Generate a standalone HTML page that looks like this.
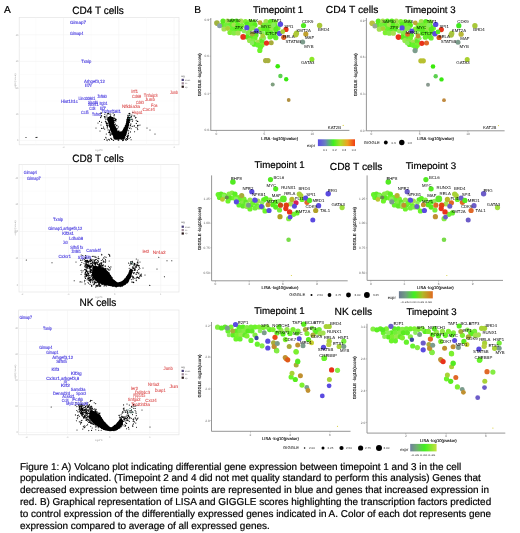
<!DOCTYPE html>
<html><head><meta charset="utf-8"><style>
html,body{margin:0;padding:0;background:#fff;}
svg{display:block;filter:blur(0.4px);}
</style></head><body>
<svg width="520" height="533" viewBox="0 0 520 533" font-family="'Liberation Sans', sans-serif" text-rendering="geometricPrecision">
<rect width="520" height="533" fill="#fff"/>
<text x="4.00" y="12.70" font-size="10.2" fill="#000" text-anchor="start" stroke="#000" stroke-width="0.2">A</text>
<text x="194.30" y="12.70" font-size="10.2" fill="#000" text-anchor="start" stroke="#000" stroke-width="0.2">B</text>
<rect x="19.2" y="17.5" width="159.8" height="127.30000000000001" fill="none" stroke="#e4e4e4" stroke-width="0.7"/>
<line x1="63.50" y1="17.50" x2="63.50" y2="144.80" stroke="#f2f2f2" stroke-width="0.6"/>
<line x1="118.80" y1="17.50" x2="118.80" y2="144.80" stroke="#f2f2f2" stroke-width="0.6"/>
<line x1="174.10" y1="17.50" x2="174.10" y2="144.80" stroke="#f2f2f2" stroke-width="0.6"/>
<line x1="35.85" y1="17.50" x2="35.85" y2="144.80" stroke="#f8f8f8" stroke-width="0.4"/>
<line x1="91.15" y1="17.50" x2="91.15" y2="144.80" stroke="#f8f8f8" stroke-width="0.4"/>
<line x1="146.45" y1="17.50" x2="146.45" y2="144.80" stroke="#f8f8f8" stroke-width="0.4"/>
<line x1="19.20" y1="34.80" x2="179.00" y2="34.80" stroke="#f2f2f2" stroke-width="0.6"/>
<line x1="19.20" y1="61.40" x2="179.00" y2="61.40" stroke="#f2f2f2" stroke-width="0.6"/>
<line x1="19.20" y1="87.80" x2="179.00" y2="87.80" stroke="#f2f2f2" stroke-width="0.6"/>
<line x1="19.20" y1="114.20" x2="179.00" y2="114.20" stroke="#f2f2f2" stroke-width="0.6"/>
<line x1="19.20" y1="140.40" x2="179.00" y2="140.40" stroke="#f2f2f2" stroke-width="0.6"/>
<line x1="19.20" y1="48.10" x2="179.00" y2="48.10" stroke="#f8f8f8" stroke-width="0.4"/>
<line x1="19.20" y1="74.60" x2="179.00" y2="74.60" stroke="#f8f8f8" stroke-width="0.4"/>
<line x1="19.20" y1="101.00" x2="179.00" y2="101.00" stroke="#f8f8f8" stroke-width="0.4"/>
<line x1="19.20" y1="127.30" x2="179.00" y2="127.30" stroke="#f8f8f8" stroke-width="0.4"/>
<text x="63.50" y="147.80" font-size="2.4" fill="#aaa" text-anchor="middle" >-2</text>
<text x="118.80" y="147.80" font-size="2.4" fill="#aaa" text-anchor="middle" >0</text>
<text x="174.10" y="147.80" font-size="2.4" fill="#aaa" text-anchor="middle" >2</text>
<text x="18.40" y="35.60" font-size="2.4" fill="#aaa" text-anchor="end" >40</text>
<text x="18.40" y="62.20" font-size="2.4" fill="#aaa" text-anchor="end" >30</text>
<text x="18.40" y="88.60" font-size="2.4" fill="#aaa" text-anchor="end" >20</text>
<text x="18.40" y="115.00" font-size="2.4" fill="#aaa" text-anchor="end" >10</text>
<text x="18.40" y="141.20" font-size="2.4" fill="#aaa" text-anchor="end" >0</text>
<text x="0" y="0" font-size="2.4" fill="#999" text-anchor="middle" transform="translate(16.0,81.2) rotate(-90)">-log10(pvalue)</text>
<text x="0" y="0" font-size="10.05" fill="#000" stroke="#000" stroke-width="0.2" transform="translate(72.30,13.75) scale(1,1.06)">CD4 T cells</text>
<polygon points="107.5,117.0 113.0,117.0 114.5,125.0 118.0,131.5 122.0,131.5 125.5,125.0 127.5,117.0 129.8,117.0 129.0,125.0 126.5,133.0 124.0,139.3 114.5,139.3 111.5,133.0 108.8,125.0" fill="#000"/>
<path d="M109.1 119.0h0M117.0 135.4h0M110.3 122.0h0M121.5 138.1h0M129.3 118.0h0M126.6 123.5h0M110.7 119.6h0M114.4 135.2h0M111.5 130.0h0M108.8 121.6h0M114.5 130.1h0M125.2 132.6h0M112.9 129.8h0M119.2 136.5h0M129.4 119.6h0M116.8 133.9h0M110.9 127.9h0M124.5 129.8h0M127.0 124.0h0M123.0 130.3h0M118.1 131.8h0M121.9 139.1h0M116.1 131.9h0M111.2 119.6h0M110.4 122.5h0M116.2 136.4h0M119.8 136.7h0M113.7 126.3h0M115.5 136.7h0M128.9 120.4h0M111.4 122.2h0M112.7 127.8h0M115.7 129.6h0M108.9 118.5h0M112.2 120.6h0M109.8 125.1h0M113.1 124.7h0M109.4 119.3h0M119.3 138.8h0M113.3 125.2h0M119.4 134.4h0M125.7 133.5h0M112.6 128.5h0M113.3 132.4h0M128.8 125.1h0M112.4 122.1h0M111.9 121.6h0M121.4 137.1h0M126.2 127.7h0M122.1 134.8h0M124.2 127.7h0M114.9 134.9h0M116.5 138.1h0M110.3 120.4h0M115.3 129.2h0M110.4 117.3h0M119.2 137.8h0M117.2 136.4h0M113.1 123.5h0M112.9 130.1h0M113.3 126.3h0M115.4 127.2h0M120.5 137.2h0M116.9 137.5h0M111.3 127.6h0M123.7 129.4h0M114.8 128.6h0M119.9 134.5h0M113.0 123.2h0M124.7 128.3h0M120.0 133.9h0M127.8 126.9h0M118.9 132.4h0M118.2 138.0h0M123.1 136.5h0M128.5 122.8h0M120.0 138.0h0M110.2 126.9h0M109.1 122.4h0M111.1 126.6h0M111.9 124.1h0M109.8 122.9h0M113.5 119.9h0M116.9 137.3h0M120.2 132.6h0M109.5 118.3h0M121.6 134.9h0M119.8 137.7h0M113.5 119.9h0M109.9 120.6h0M108.6 121.5h0M123.8 129.3h0M111.7 127.6h0M128.3 119.4h0M125.8 126.6h0M118.5 135.6h0M116.3 128.3h0M122.8 138.9h0M115.1 135.6h0M123.3 131.2h0M108.7 119.9h0M113.2 120.6h0M113.8 122.4h0M114.0 127.2h0M111.0 126.9h0M114.4 125.0h0M112.0 128.3h0M109.5 125.9h0M108.4 117.5h0M124.2 131.7h0M123.5 136.6h0M129.5 120.3h0M123.6 131.3h0M123.9 135.1h0M110.6 128.7h0M118.7 135.6h0M125.4 135.4h0M120.5 136.9h0M122.7 132.5h0M112.6 117.7h0M110.5 125.0h0M121.5 132.2h0M125.3 133.7h0M109.2 122.9h0M124.0 138.8h0M118.2 132.2h0M124.6 130.8h0M110.8 122.7h0M108.9 123.0h0M122.5 132.4h0M127.4 121.4h0M112.2 130.0h0M110.7 128.7h0M128.7 120.0h0M125.8 128.3h0M110.6 124.7h0M114.5 135.7h0M127.6 123.5h0M113.9 137.9h0M113.1 122.9h0M115.8 138.3h0M121.6 137.4h0M124.3 131.4h0M128.2 119.8h0M114.1 133.5h0M111.2 120.6h0M111.8 119.0h0M112.8 122.8h0M120.2 136.8h0M108.9 123.2h0M129.1 119.8h0M126.7 121.8h0M113.5 122.5h0M127.5 127.6h0M116.2 137.7h0M129.2 122.5h0M109.9 120.4h0M119.1 132.2h0M121.9 134.1h0M110.4 122.6h0M121.7 132.6h0M110.0 118.6h0M114.2 127.3h0M127.2 127.6h0M112.7 122.5h0M118.6 132.0h0M122.4 137.6h0M112.6 117.8h0M115.0 126.4h0M125.3 133.5h0M112.4 134.0h0M114.1 138.2h0M112.5 126.3h0M122.3 138.2h0M110.8 125.8h0M110.7 118.2h0M123.8 139.2h0M128.3 124.3h0M111.3 117.1h0M113.7 124.8h0M128.8 119.8h0M129.0 121.6h0M115.5 135.3h0M125.8 126.6h0M115.8 137.5h0M111.8 125.1h0M127.5 117.7h0M116.7 135.1h0M108.3 118.4h0M128.0 122.7h0M124.2 137.0h0M113.3 133.0h0M128.5 117.5h0M112.7 127.6h0M128.2 121.1h0M125.4 133.5h0M125.8 134.2h0M111.9 133.8h0M113.0 118.4h0M114.8 138.9h0M112.7 126.3h0M121.3 132.0h0M124.2 135.9h0M126.3 123.6h0M113.0 122.5h0M116.3 139.1h0M125.5 131.6h0M118.1 135.3h0M110.2 121.2h0M128.2 125.3h0M126.8 127.0h0M113.3 134.3h0M128.6 119.4h0M112.4 125.2h0M110.7 121.5h0M113.2 130.4h0M125.2 129.2h0M108.9 119.3h0M116.3 129.3h0M108.7 132.5h0M115.9 120.9h0M112.9 139.7h0M113.1 128.9h0M114.4 124.7h0M114.5 118.5h0M116.3 136.0h0M115.8 137.7h0M122.6 138.5h0M114.8 127.1h0M108.2 120.9h0M119.1 138.9h0M107.2 126.7h0M109.7 116.5h0M130.9 123.9h0M127.9 117.5h0M126.8 119.2h0M115.7 136.7h0M128.0 118.1h0M110.3 124.2h0M107.6 119.9h0M125.0 138.1h0M128.3 116.3h0M116.2 129.3h0M116.3 131.4h0M117.0 125.3h0M126.1 134.8h0M107.7 125.1h0M106.7 125.4h0M125.3 134.8h0M131.6 116.8h0M125.2 135.8h0M118.3 139.8h0M130.6 117.6h0M126.9 139.1h0M105.9 122.8h0M130.0 120.7h0M127.7 117.0h0M118.6 138.8h0M110.0 120.4h0M105.1 118.1h0M123.7 138.1h0M107.3 127.9h0M129.3 128.5h0M120.8 137.7h0M127.1 120.4h0M114.4 134.4h0M127.8 120.1h0M122.5 140.6h0M113.1 113.1h0M105.0 117.2h0M118.9 138.1h0M107.8 119.4h0M107.1 123.0h0M110.5 129.3h0M111.1 117.2h0M115.7 120.4h0M111.2 138.3h0M115.8 119.7h0M131.3 117.0h0M109.8 130.0h0M118.7 131.0h0M127.6 117.9h0M113.0 121.4h0M126.7 133.0h0M125.6 126.0h0M125.5 125.7h0M110.6 115.9h0M110.7 114.1h0M113.7 134.0h0M124.2 136.7h0M126.9 127.7h0M111.7 131.0h0M132.0 119.1h0M129.5 113.4h0M111.6 119.6h0M125.6 139.5h0M129.5 122.2h0M122.3 132.4h0M123.3 140.4h0M117.6 136.5h0M124.2 137.0h0M116.7 133.3h0M110.1 130.4h0M108.2 113.8h0M114.0 117.0h0M104.8 114.2h0M124.1 130.7h0M124.2 133.6h0M114.5 135.9h0M127.8 138.0h0M107.1 118.8h0M107.2 114.0h0M122.4 136.1h0M106.9 115.7h0M113.3 124.9h0M112.2 133.0h0M114.7 122.0h0M128.7 130.3h0M116.7 134.6h0M114.1 132.7h0M129.0 115.5h0M127.8 117.8h0M126.1 140.4h0M118.3 135.3h0M109.4 126.8h0M114.1 136.3h0M111.6 139.4h0M112.2 119.0h0M124.2 135.0h0M115.6 124.0h0M129.8 115.4h0M129.8 113.7h0M110.0 120.4h0M130.1 127.0h0M115.0 137.8h0M110.8 125.9h0M119.4 134.1h0M125.8 131.1h0M114.1 122.1h0M123.2 133.8h0M108.9 125.3h0M126.4 129.2h0M107.7 125.9h0M129.7 119.7h0M109.6 121.4h0M124.4 136.6h0M108.5 117.4h0M111.2 122.1h0M113.5 118.3h0M106.9 123.8h0M125.3 125.2h0M109.7 130.9h0M107.1 118.8h0M115.6 135.1h0M108.1 129.9h0M115.7 133.7h0M130.3 125.0h0M120.6 134.0h0M116.2 119.4h0M124.9 137.6h0M126.4 132.6h0M128.7 132.0h0M113.1 130.6h0M106.8 124.7h0M126.7 133.0h0M116.3 125.7h0M123.6 139.0h0M109.3 131.3h0M126.6 123.9h0M118.2 140.3h0M119.7 133.1h0M118.9 130.9h0M128.0 127.6h0M115.9 139.5h0M110.1 132.2h0M115.4 134.4h0M114.3 114.6h0M112.0 124.2h0M116.2 132.6h0M114.2 120.4h0M110.5 133.8h0M110.3 135.4h0M115.4 118.9h0M127.5 130.8h0M117.6 128.7h0M114.2 130.9h0M127.7 135.9h0M128.2 122.9h0M128.7 120.5h0M114.9 120.1h0M112.2 119.9h0M112.8 126.4h0M116.4 130.8h0M106.9 117.0h0M110.8 134.7h0M114.0 117.3h0M121.6 134.9h0M123.4 138.0h0M126.9 136.5h0M109.7 132.4h0M119.4 133.8h0M116.7 137.7h0M110.8 116.9h0M118.2 126.9h0M119.6 137.2h0M117.6 128.8h0M123.3 136.5h0M114.9 124.7h0M131.9 115.1h0M123.8 139.1h0M113.6 140.5h0M130.0 113.9h0M124.8 130.5h0M113.8 137.1h0M114.6 126.3h0M119.2 134.6h0M110.1 125.2h0M116.2 128.5h0M128.0 121.2h0M128.0 124.3h0M118.7 140.3h0M123.0 135.2h0M113.6 121.9h0M112.7 129.4h0M122.4 135.0h0M129.7 128.3h0M105.4 121.4h0M123.1 135.1h0M124.2 129.7h0M109.3 114.0h0M126.5 138.6h0M127.9 135.0h0M112.8 124.8h0M113.2 125.1h0M122.6 139.1h0M105.1 116.3h0M127.5 129.1h0M130.6 125.5h0M121.2 139.3h0M108.4 113.4h0M107.7 113.5h0M124.7 137.0h0M122.2 132.9h0M117.4 139.1h0M127.7 115.2h0M113.0 133.4h0M114.7 129.1h0M116.7 132.0h0M114.5 131.1h0M115.2 135.0h0M124.4 136.2h0M113.6 130.0h0M116.4 137.9h0M114.9 132.2h0M121.5 138.1h0M127.4 120.9h0M116.3 129.4h0M127.7 137.8h0M127.5 137.3h0M123.9 138.6h0M114.1 115.4h0M120.1 135.3h0M109.8 134.0h0M131.0 119.6h0M121.6 132.0h0M111.4 134.0h0M127.0 125.9h0M106.1 138.0h0M104.7 129.1h0M100.6 117.6h0M103.1 128.4h0M103.6 127.0h0M100.1 113.3h0M106.4 122.0h0M105.3 112.6h0M105.9 119.6h0M109.5 139.9h0M101.6 113.1h0M100.8 117.2h0M105.8 137.2h0M104.4 139.5h0M106.4 123.5h0M101.6 128.4h0M107.0 139.7h0M107.4 123.4h0M104.3 116.6h0M101.1 113.1h0M101.6 122.2h0M110.6 138.2h0M109.0 132.6h0M107.1 140.6h0M108.6 139.2h0M106.3 134.0h0M99.5 121.4h0M101.6 115.6h0M104.7 116.9h0M101.3 116.2h0M136.0 117.5h0M129.1 138.2h0M127.4 138.0h0M137.8 129.6h0M132.3 121.5h0M137.5 125.4h0M134.8 116.0h0M129.1 113.6h0M136.0 127.5h0M128.0 136.4h0M137.8 121.4h0M130.5 137.3h0M127.6 139.4h0M135.4 117.9h0M132.7 120.0h0M129.6 117.6h0M131.1 139.7h0M136.2 120.2h0M137.3 121.5h0M137.7 126.7h0M134.0 115.9h0M128.5 133.6h0M136.0 117.5h0M134.5 125.9h0M129.8 117.8h0M134.6 131.8h0M137.4 128.3h0M128.8 113.8h0M136.3 123.4h0M137.3 121.4h0M132.9 112.4h0M138.7 125.3h0M128.6 135.3h0M131.1 116.6h0M131.2 128.7h0M132.2 126.4h0M130.5 131.9h0M26.0 137.5h0M36.0 137.5h0M37.0 137.2h0M100.0 131.0h0M96.0 128.0h0M98.0 123.0h0M101.0 125.0h0M134.0 126.0h0M140.0 125.0h0M150.0 130.0h0M147.0 128.0h0M155.0 134.0h0" stroke="#000" stroke-width="1.1" stroke-linecap="round" fill="none"/>
<path d="M129.5 115.8h0M130.5 117.2h0M128.4 118.5h0M131.2 119.5h0" stroke="#2a7a68" stroke-width="1.1" stroke-linecap="round" fill="none"/>
<text x="70.00" y="23.50" font-size="4.6" fill="#4c3fe0" text-anchor="start"  stroke="#4c3fe0" stroke-width="0.15">Gimap7</text>
<text x="70.00" y="34.70" font-size="4.6" fill="#4c3fe0" text-anchor="start" textLength="13.3" lengthAdjust="spacingAndGlyphs" stroke="#4c3fe0" stroke-width="0.15">Gimap4</text>
<text x="81.20" y="63.30" font-size="4.6" fill="#4c3fe0" text-anchor="start" textLength="10.1" lengthAdjust="spacingAndGlyphs" stroke="#4c3fe0" stroke-width="0.15">Txnip</text>
<text x="84.00" y="82.50" font-size="4.6" fill="#4c3fe0" text-anchor="start" textLength="20.8" lengthAdjust="spacingAndGlyphs" stroke="#4c3fe0" stroke-width="0.15">Arhgef3,12</text>
<text x="85.00" y="86.50" font-size="4.6" fill="#4c3fe0" text-anchor="start" textLength="7.0" lengthAdjust="spacingAndGlyphs" stroke="#4c3fe0" stroke-width="0.15">Il7r</text>
<text x="97.40" y="97.80" font-size="4.6" fill="#4c3fe0" text-anchor="start" textLength="9.4" lengthAdjust="spacingAndGlyphs" stroke="#4c3fe0" stroke-width="0.15">Znf683</text>
<text x="78.50" y="100.00" font-size="4.6" fill="#4c3fe0" text-anchor="start" textLength="16.9" lengthAdjust="spacingAndGlyphs" stroke="#4c3fe0" stroke-width="0.15">Linc00861</text>
<text x="61.00" y="103.10" font-size="4.6" fill="#4c3fe0" text-anchor="start" textLength="16.9" lengthAdjust="spacingAndGlyphs" stroke="#4c3fe0" stroke-width="0.15">Hist1h1c</text>
<text x="88.00" y="103.50" font-size="4.6" fill="#4c3fe0" text-anchor="start" textLength="10.0" lengthAdjust="spacingAndGlyphs" stroke="#4c3fe0" stroke-width="0.15">Slamf6</text>
<text x="88.00" y="106.40" font-size="4.6" fill="#4c3fe0" text-anchor="start" textLength="10.7" lengthAdjust="spacingAndGlyphs" stroke="#4c3fe0" stroke-width="0.15">Sorl1</text>
<text x="99.40" y="104.50" font-size="4.6" fill="#4c3fe0" text-anchor="start" textLength="8.1" lengthAdjust="spacingAndGlyphs" stroke="#4c3fe0" stroke-width="0.15">Itgb1</text>
<text x="89.30" y="110.10" font-size="4.6" fill="#4c3fe0" text-anchor="start" textLength="6.1" lengthAdjust="spacingAndGlyphs" stroke="#4c3fe0" stroke-width="0.15">Cd3</text>
<text x="100.00" y="109.50" font-size="4.6" fill="#4c3fe0" text-anchor="start" textLength="6.0" lengthAdjust="spacingAndGlyphs" stroke="#4c3fe0" stroke-width="0.15">Il7</text>
<text x="81.00" y="113.50" font-size="4.6" fill="#4c3fe0" text-anchor="start" textLength="7.6" lengthAdjust="spacingAndGlyphs" stroke="#4c3fe0" stroke-width="0.15">Ccl5</text>
<text x="92.00" y="115.80" font-size="4.6" fill="#4c3fe0" text-anchor="start" textLength="8.8" lengthAdjust="spacingAndGlyphs" stroke="#4c3fe0" stroke-width="0.15">Tnfrsf</text>
<text x="101.40" y="112.80" font-size="4.6" fill="#4c3fe0" text-anchor="start" textLength="19.6" lengthAdjust="spacingAndGlyphs" stroke="#4c3fe0" stroke-width="0.15">Tnfrsf18l1</text>
<text x="131.30" y="92.50" font-size="4.6" fill="#dc5050" text-anchor="start" textLength="6.7" lengthAdjust="spacingAndGlyphs" stroke="#dc5050" stroke-width="0.1">Irf1</text>
<text x="131.90" y="97.80" font-size="4.6" fill="#dc5050" text-anchor="start" textLength="9.4" lengthAdjust="spacingAndGlyphs" stroke="#dc5050" stroke-width="0.1">Cd69</text>
<text x="143.80" y="96.50" font-size="4.6" fill="#dc5050" text-anchor="start" textLength="13.7" lengthAdjust="spacingAndGlyphs" stroke="#dc5050" stroke-width="0.1">Tnfaip3</text>
<text x="145.00" y="101.30" font-size="4.6" fill="#dc5050" text-anchor="start" textLength="10.0" lengthAdjust="spacingAndGlyphs" stroke="#dc5050" stroke-width="0.1">Junb</text>
<text x="136.00" y="104.00" font-size="4.6" fill="#dc5050" text-anchor="start" textLength="7.8" lengthAdjust="spacingAndGlyphs" stroke="#dc5050" stroke-width="0.1">Cd83</text>
<text x="151.00" y="106.50" font-size="4.6" fill="#dc5050" text-anchor="start" textLength="6.5" lengthAdjust="spacingAndGlyphs" stroke="#dc5050" stroke-width="0.1">Fos</text>
<text x="122.00" y="108.00" font-size="4.6" fill="#dc5050" text-anchor="start" textLength="18.0" lengthAdjust="spacingAndGlyphs" stroke="#dc5050" stroke-width="0.1">Nfkbia3a</text>
<text x="142.50" y="110.50" font-size="4.6" fill="#dc5050" text-anchor="start" textLength="12.5" lengthAdjust="spacingAndGlyphs" stroke="#dc5050" stroke-width="0.1">Cxcr4</text>
<text x="132.50" y="113.80" font-size="4.6" fill="#dc5050" text-anchor="start" textLength="10.0" lengthAdjust="spacingAndGlyphs" stroke="#dc5050" stroke-width="0.1">Hspa1</text>
<text x="170.00" y="94.00" font-size="4.6" fill="#dc5050" text-anchor="start" textLength="8.0" lengthAdjust="spacingAndGlyphs" stroke="#dc5050" stroke-width="0.1">Junb</text>
<text x="181.30" y="76.50" font-size="2.6" fill="#444" text-anchor="start" >sig</text>
<rect x="181.60000000000002" y="78.80" width="2.3" height="2.2" fill="#4a3f78"/>
<text x="185.10" y="80.80" font-size="2.2" fill="#666" text-anchor="start" >down</text>
<rect x="181.60000000000002" y="82.20" width="2.3" height="2.2" fill="#a08a98"/>
<text x="185.10" y="84.20" font-size="2.2" fill="#666" text-anchor="start" >nc</text>
<rect x="181.60000000000002" y="85.60" width="2.3" height="2.2" fill="#2a1a1a"/>
<text x="185.10" y="87.60" font-size="2.2" fill="#666" text-anchor="start" >up</text>
<text x="99.1" y="150.6" font-size="2.4" fill="#999" text-anchor="middle">log2FC</text>
<rect x="19.0" y="164.5" width="160.0" height="127.5" fill="none" stroke="#e4e4e4" stroke-width="0.7"/>
<line x1="22.40" y1="164.50" x2="22.40" y2="292.00" stroke="#f2f2f2" stroke-width="0.6"/>
<line x1="68.50" y1="164.50" x2="68.50" y2="292.00" stroke="#f2f2f2" stroke-width="0.6"/>
<line x1="114.60" y1="164.50" x2="114.60" y2="292.00" stroke="#f2f2f2" stroke-width="0.6"/>
<line x1="160.70" y1="164.50" x2="160.70" y2="292.00" stroke="#f2f2f2" stroke-width="0.6"/>
<line x1="45.45" y1="164.50" x2="45.45" y2="292.00" stroke="#f8f8f8" stroke-width="0.4"/>
<line x1="91.55" y1="164.50" x2="91.55" y2="292.00" stroke="#f8f8f8" stroke-width="0.4"/>
<line x1="137.65" y1="164.50" x2="137.65" y2="292.00" stroke="#f8f8f8" stroke-width="0.4"/>
<line x1="19.00" y1="177.70" x2="179.00" y2="177.70" stroke="#f2f2f2" stroke-width="0.6"/>
<line x1="19.00" y1="204.60" x2="179.00" y2="204.60" stroke="#f2f2f2" stroke-width="0.6"/>
<line x1="19.00" y1="231.50" x2="179.00" y2="231.50" stroke="#f2f2f2" stroke-width="0.6"/>
<line x1="19.00" y1="258.40" x2="179.00" y2="258.40" stroke="#f2f2f2" stroke-width="0.6"/>
<line x1="19.00" y1="285.30" x2="179.00" y2="285.30" stroke="#f2f2f2" stroke-width="0.6"/>
<line x1="19.00" y1="191.15" x2="179.00" y2="191.15" stroke="#f8f8f8" stroke-width="0.4"/>
<line x1="19.00" y1="218.05" x2="179.00" y2="218.05" stroke="#f8f8f8" stroke-width="0.4"/>
<line x1="19.00" y1="244.95" x2="179.00" y2="244.95" stroke="#f8f8f8" stroke-width="0.4"/>
<line x1="19.00" y1="271.85" x2="179.00" y2="271.85" stroke="#f8f8f8" stroke-width="0.4"/>
<text x="22.40" y="295.00" font-size="2.4" fill="#aaa" text-anchor="middle" >-2</text>
<text x="68.50" y="295.00" font-size="2.4" fill="#aaa" text-anchor="middle" >-1</text>
<text x="114.60" y="295.00" font-size="2.4" fill="#aaa" text-anchor="middle" >0</text>
<text x="160.70" y="295.00" font-size="2.4" fill="#aaa" text-anchor="middle" >1</text>
<text x="18.20" y="178.50" font-size="2.4" fill="#aaa" text-anchor="end" >40</text>
<text x="18.20" y="205.40" font-size="2.4" fill="#aaa" text-anchor="end" >30</text>
<text x="18.20" y="232.30" font-size="2.4" fill="#aaa" text-anchor="end" >20</text>
<text x="18.20" y="259.20" font-size="2.4" fill="#aaa" text-anchor="end" >10</text>
<text x="18.20" y="286.10" font-size="2.4" fill="#aaa" text-anchor="end" >0</text>
<text x="0" y="0" font-size="2.4" fill="#999" text-anchor="middle" transform="translate(15.8,228.2) rotate(-90)">-log10(pvalue)</text>
<text x="0" y="0" font-size="10.05" fill="#000" stroke="#000" stroke-width="0.2" transform="translate(72.30,161.85) scale(1,1.06)">CD8 T cells</text>
<polygon points="93.0,266.0 99.0,266.5 104.0,268.0 108.5,272.0 113.0,279.0 117.5,282.5 121.5,281.5 125.0,278.5 128.0,274.0 130.5,268.5 133.0,270.0 131.0,277.0 127.5,283.0 122.0,286.5 116.0,287.0 108.8,285.8 102.0,284.5 96.0,281.0 92.0,276.0" fill="#000"/>
<path d="M107.6 281.8h0M131.1 276.4h0M131.7 270.7h0M99.5 268.2h0M102.3 283.2h0M93.2 268.0h0M127.7 281.1h0M93.9 268.6h0M103.5 268.6h0M116.3 284.1h0M98.0 278.0h0M107.9 274.8h0M126.4 277.0h0M101.9 273.0h0M125.4 283.8h0M94.2 276.9h0M102.2 274.9h0M109.8 276.6h0M92.9 268.9h0M114.2 285.4h0M131.0 272.0h0M104.5 279.6h0M96.9 278.5h0M103.0 275.8h0M97.1 268.8h0M104.0 274.5h0M103.8 271.1h0M95.6 277.5h0M126.4 278.8h0M100.2 280.9h0M110.9 277.5h0M104.7 271.1h0M101.1 276.8h0M107.7 278.3h0M92.5 273.4h0M104.1 282.2h0M98.5 267.4h0M127.7 275.2h0M94.5 274.1h0M110.0 281.4h0M96.5 270.7h0M98.3 273.1h0M106.5 280.2h0M117.3 283.8h0M122.3 281.6h0M124.2 280.9h0M112.4 286.2h0M124.1 284.3h0M110.5 275.6h0M108.0 277.7h0M107.8 272.8h0M124.3 283.8h0M99.6 272.4h0M97.9 278.1h0M129.7 272.8h0M131.3 270.3h0M109.5 285.1h0M106.7 278.5h0M96.1 273.9h0M108.4 277.8h0M115.5 284.5h0M110.0 279.1h0M113.7 283.1h0M99.0 272.7h0M128.7 280.5h0M128.4 274.8h0M98.4 272.1h0M99.7 269.8h0M108.9 282.5h0M104.6 280.5h0M126.5 278.3h0M102.9 279.6h0M97.0 269.3h0M96.1 269.6h0M113.4 283.3h0M117.1 282.9h0M94.5 266.3h0M98.9 271.6h0M115.9 286.2h0M110.0 279.0h0M104.9 284.9h0M116.7 286.2h0M112.3 285.9h0M102.0 274.2h0M104.7 284.4h0M111.9 282.6h0M102.0 269.6h0M131.8 272.1h0M106.4 271.1h0M99.8 272.0h0M98.4 280.8h0M95.8 271.7h0M110.2 283.6h0M106.5 281.2h0M128.9 278.3h0M107.1 271.2h0M103.1 282.2h0M107.8 279.8h0M105.2 279.9h0M96.5 277.8h0M106.8 276.5h0M104.8 270.8h0M97.2 281.1h0M103.6 274.5h0M97.4 271.8h0M108.9 279.8h0M93.7 266.8h0M98.6 270.2h0M104.4 274.0h0M93.6 272.5h0M126.4 278.0h0M109.8 280.4h0M126.2 282.3h0M127.0 278.8h0M93.9 271.1h0M122.7 283.4h0M103.5 267.9h0M130.8 274.9h0M122.3 283.4h0M109.6 276.7h0M120.8 282.9h0M102.7 277.5h0M94.4 273.5h0M104.7 268.9h0M101.8 271.1h0M130.4 273.4h0M104.3 284.6h0M97.8 277.8h0M105.7 283.1h0M114.5 282.0h0M98.9 280.0h0M123.4 283.5h0M96.7 272.1h0M94.5 271.9h0M100.1 280.7h0M105.3 275.8h0M94.9 266.2h0M96.5 276.3h0M117.7 285.6h0M102.1 268.9h0M99.6 279.4h0M98.9 282.5h0M126.0 281.6h0M105.4 269.9h0M107.1 277.6h0M107.1 283.5h0M125.6 280.8h0M98.5 272.3h0M95.7 266.8h0M103.6 279.9h0M105.9 275.2h0M119.3 283.3h0M104.1 275.3h0M100.0 267.8h0M105.3 275.7h0M104.2 278.0h0M131.1 276.1h0M106.1 284.6h0M93.1 270.0h0M95.5 279.9h0M107.3 278.2h0M109.1 277.1h0M96.7 269.8h0M128.5 277.5h0M102.4 268.0h0M112.1 277.6h0M101.3 278.0h0M96.6 276.8h0M110.0 284.1h0M114.6 281.0h0M101.7 273.8h0M100.7 272.3h0M128.4 279.0h0M127.8 277.8h0M98.9 281.7h0M106.0 282.0h0M119.9 283.3h0M97.0 273.8h0M122.2 285.9h0M114.5 282.9h0M99.9 275.4h0M126.4 278.2h0M96.7 266.4h0M99.6 277.6h0M103.9 280.4h0M127.9 277.3h0M120.3 283.0h0M112.6 284.3h0M127.8 278.8h0M95.1 272.9h0M99.0 273.6h0M111.2 278.1h0M107.9 273.4h0M93.9 269.1h0M103.2 276.5h0M102.7 277.9h0M113.7 286.1h0M115.0 282.2h0M127.8 282.3h0M106.9 271.9h0M124.6 284.3h0M104.5 282.0h0M94.5 273.1h0M102.0 270.9h0M110.6 275.4h0M98.9 267.4h0M104.4 272.5h0M130.4 273.1h0M129.8 278.3h0M95.3 269.8h0M115.8 286.7h0M106.6 282.3h0M109.6 284.2h0M94.8 276.2h0M98.7 271.6h0M116.7 284.1h0M122.1 286.2h0M125.2 284.4h0M99.7 277.3h0M127.9 279.4h0M129.8 270.5h0M105.4 281.7h0M94.4 274.7h0M105.7 276.4h0M129.9 277.8h0M98.4 269.0h0M121.2 282.0h0M113.5 285.8h0M111.5 279.8h0M132.6 270.8h0M93.1 268.8h0M94.5 276.5h0M130.5 273.7h0M98.1 269.7h0M122.2 285.4h0M98.6 266.6h0M105.3 285.0h0M108.5 284.1h0M94.5 277.8h0M108.8 285.3h0M101.2 271.3h0M102.8 275.1h0M101.5 270.3h0M100.9 278.0h0M122.8 283.3h0M103.6 273.0h0M111.9 284.7h0M98.6 280.3h0M115.7 284.5h0M106.8 282.4h0M98.2 281.5h0M96.0 269.5h0M121.4 284.5h0M101.6 282.6h0M105.0 284.5h0M96.9 276.2h0M97.6 275.0h0M99.3 280.4h0M98.1 281.5h0M106.5 276.4h0M129.7 273.3h0M128.2 281.4h0M103.2 269.7h0M93.8 276.7h0M108.7 277.7h0M120.3 286.6h0M127.8 281.1h0M108.4 272.7h0M107.9 274.1h0M116.9 285.5h0M102.4 278.8h0M100.1 268.4h0M126.6 282.5h0M127.0 276.7h0M116.3 286.9h0M101.6 279.2h0M101.2 278.9h0M111.4 281.2h0M101.1 269.0h0M130.0 277.1h0M110.9 279.5h0M107.6 283.5h0M98.3 271.3h0M96.2 273.5h0M111.6 282.8h0M107.2 273.1h0M100.2 278.0h0M94.4 269.7h0M105.3 271.1h0M118.1 284.0h0M100.3 274.9h0M124.5 279.0h0M108.7 279.6h0M107.8 278.2h0M129.9 270.0h0M107.3 280.0h0M111.4 284.7h0M110.0 276.3h0M113.0 283.3h0M123.5 282.2h0M96.8 270.6h0M96.2 267.9h0M109.1 278.3h0M105.7 276.9h0M103.3 271.5h0M104.8 271.4h0M127.2 277.7h0M94.1 272.4h0M127.5 282.8h0M100.3 267.1h0M111.0 276.3h0M129.7 277.7h0M94.1 272.6h0M103.2 282.7h0M104.0 280.9h0M110.6 285.6h0M110.2 284.4h0M94.4 275.1h0M129.8 277.8h0M104.1 270.4h0M96.1 268.0h0M109.0 279.8h0M104.0 270.9h0M129.4 272.8h0M107.6 279.5h0M101.2 277.5h0M95.8 275.8h0M130.5 277.1h0M103.9 273.3h0M111.9 284.1h0M95.6 268.9h0M116.6 286.3h0M105.7 275.4h0M102.1 281.6h0M99.3 282.5h0M114.6 282.5h0M93.4 276.8h0M96.0 279.6h0M97.4 278.1h0M106.5 273.9h0M105.6 283.7h0M127.8 276.1h0M98.1 268.0h0M96.8 275.8h0M98.7 277.2h0M100.1 274.5h0M100.3 268.7h0M101.8 284.3h0M112.6 284.7h0M112.0 282.6h0M101.4 281.8h0M98.3 271.5h0M93.3 274.3h0M116.4 282.5h0M102.1 278.6h0M130.6 274.7h0M102.0 281.4h0M100.1 270.6h0M123.9 285.1h0M100.2 279.1h0M126.7 282.5h0M126.1 282.8h0M125.8 282.5h0M102.3 283.6h0M101.5 270.2h0M112.2 285.1h0M108.1 282.5h0M124.5 280.3h0M118.8 283.6h0M105.9 278.5h0M126.3 282.7h0M98.3 271.8h0M92.4 265.0h0M92.8 282.6h0M98.6 267.2h0M86.9 266.6h0M100.4 271.4h0M99.5 281.6h0M87.7 278.1h0M89.1 266.6h0M106.1 269.1h0M98.4 284.0h0M93.7 273.0h0M106.0 273.2h0M95.0 281.7h0M90.5 268.9h0M87.2 274.5h0M104.0 273.4h0M104.7 277.7h0M86.7 276.5h0M93.0 277.5h0M98.9 269.5h0M96.5 277.9h0M105.0 272.9h0M100.0 274.6h0M94.9 280.0h0M104.6 279.4h0M92.2 262.8h0M106.0 284.0h0M88.2 275.5h0M97.7 260.3h0M93.6 279.9h0M99.1 266.9h0M101.8 267.2h0M97.0 270.8h0M102.7 277.9h0M100.6 278.3h0M91.1 263.5h0M97.7 282.1h0M102.5 268.7h0M88.1 273.4h0M101.2 263.8h0M91.9 260.5h0M91.5 269.7h0M106.3 285.9h0M89.1 267.7h0M92.1 271.3h0M87.4 266.3h0M93.7 269.8h0M94.9 282.4h0M99.0 280.8h0M91.9 263.3h0M101.7 272.2h0M97.3 277.8h0M101.6 266.7h0M96.6 267.1h0M98.9 266.3h0M103.2 274.9h0M90.8 265.8h0M86.5 274.4h0M101.6 278.0h0M94.1 281.6h0M87.4 267.6h0M99.2 286.1h0M98.9 278.4h0M102.0 270.0h0M105.7 279.8h0M92.5 270.0h0M102.7 268.8h0M96.7 273.6h0M99.7 284.2h0M87.9 268.5h0M86.5 270.6h0M96.0 282.9h0M99.7 275.2h0M93.9 275.1h0M102.3 282.5h0M88.3 277.8h0M101.6 273.0h0M104.8 284.2h0M101.3 282.0h0M99.3 283.6h0M87.9 278.7h0M100.5 276.1h0M91.1 260.9h0M98.3 282.1h0M91.0 265.0h0M89.9 261.6h0M99.9 286.3h0M102.6 269.1h0M103.4 268.1h0M85.1 276.6h0M88.1 266.7h0M86.3 271.5h0M97.2 281.6h0M87.4 265.3h0M98.8 268.5h0M92.3 274.9h0M89.8 281.2h0M102.8 274.0h0M85.6 273.1h0M94.3 260.8h0M98.9 279.3h0M97.9 270.2h0M96.3 275.5h0M95.5 262.7h0M95.0 278.1h0M100.6 271.7h0M92.5 264.3h0M93.9 266.9h0M89.3 279.6h0M96.4 271.3h0M89.3 278.7h0M89.3 266.4h0M97.3 278.6h0M106.4 279.9h0M105.9 284.8h0M100.9 279.1h0M86.4 264.8h0M100.9 276.6h0M90.8 269.0h0M88.6 276.7h0M86.0 263.9h0M102.7 271.7h0M87.2 262.0h0M105.1 281.3h0M95.5 282.0h0M87.8 262.0h0M97.4 273.2h0M89.6 266.1h0M100.6 285.5h0M101.1 269.8h0M102.9 282.6h0M89.7 275.4h0M103.3 281.0h0M95.2 260.2h0M104.6 274.0h0M86.6 268.1h0M98.7 283.8h0M95.7 276.9h0M89.5 265.8h0M104.9 269.7h0M87.3 275.6h0M87.8 264.6h0M95.0 275.4h0M99.0 278.8h0M94.7 260.9h0M95.4 270.2h0M99.8 279.0h0M90.3 277.2h0M100.2 272.2h0M98.2 260.8h0M90.0 270.0h0M102.3 282.1h0M98.9 279.8h0M85.8 261.6h0M106.5 281.5h0M85.8 260.4h0M89.8 277.8h0M105.5 276.9h0M105.2 266.4h0M106.4 278.9h0M88.6 273.3h0M104.6 284.7h0M97.2 282.0h0M96.1 276.4h0M98.1 281.4h0M86.7 260.5h0M97.0 267.1h0M103.3 281.7h0M95.1 262.4h0M99.3 264.8h0M94.4 262.1h0M92.8 261.6h0M101.1 282.8h0M93.1 267.5h0M101.8 263.1h0M86.6 262.2h0M100.2 275.8h0M96.4 271.8h0M94.0 276.1h0M99.3 284.7h0M101.1 281.3h0M105.1 282.4h0M100.0 282.8h0M94.5 283.6h0M94.7 278.8h0M90.6 267.4h0M92.7 268.1h0M87.1 271.4h0M105.5 280.3h0M101.6 266.7h0M90.5 270.5h0M85.5 265.5h0M104.5 284.8h0M92.2 280.6h0M102.0 283.9h0M102.5 273.9h0M91.9 276.6h0M93.1 274.0h0M96.7 277.2h0M96.8 285.3h0M100.2 286.1h0M87.0 264.9h0M85.3 266.3h0M88.9 271.3h0M100.1 278.3h0M101.4 280.1h0M90.5 266.2h0M85.6 278.4h0M89.6 266.3h0M106.2 277.0h0M98.0 277.4h0M98.2 278.5h0M91.7 260.8h0M93.0 263.0h0M87.5 272.8h0M106.3 278.3h0M91.0 280.5h0M88.9 261.8h0M91.7 270.5h0M100.2 271.5h0M105.5 268.6h0M103.2 265.3h0M103.8 281.5h0M99.8 266.8h0M85.2 264.3h0M99.5 275.4h0M99.5 264.1h0M88.2 261.7h0M99.3 274.9h0M89.9 260.8h0M93.0 279.2h0M90.5 269.3h0M96.5 262.1h0M90.5 281.3h0M91.3 269.7h0M101.8 265.3h0M89.3 265.1h0M93.5 269.2h0M99.1 272.2h0M99.6 282.4h0M90.2 259.8h0M94.6 262.2h0M95.1 278.9h0M87.1 262.3h0M95.5 263.9h0M90.1 271.3h0M87.6 260.9h0M92.9 272.1h0M105.6 274.5h0M86.6 265.2h0M101.4 274.8h0M104.1 285.9h0M105.8 273.7h0M90.3 263.8h0M86.8 266.4h0M105.3 271.9h0M95.0 267.9h0M89.5 277.6h0M92.9 262.4h0M99.4 273.4h0M85.5 272.2h0M101.3 274.0h0M90.1 273.0h0M98.3 277.2h0M105.8 279.7h0M103.9 269.3h0M90.0 275.7h0M89.8 260.0h0M94.7 262.9h0M89.2 280.0h0M97.8 285.3h0M93.8 278.0h0M90.1 272.4h0M96.3 285.6h0M98.7 265.1h0M103.3 264.7h0M92.1 270.4h0M92.5 277.7h0M85.5 269.5h0M85.0 276.0h0M90.7 271.7h0M97.4 278.9h0M88.0 265.7h0M88.3 262.8h0M96.5 275.3h0M90.2 263.7h0M97.9 271.7h0M94.0 283.9h0M99.6 283.1h0M105.7 270.4h0M91.4 267.1h0M106.3 283.4h0M94.2 273.8h0M103.7 281.6h0M99.4 273.4h0M87.6 265.8h0M99.5 275.4h0M102.6 284.2h0M97.5 264.1h0M100.2 266.2h0M90.2 269.3h0M96.5 278.0h0M98.7 272.2h0M99.8 281.4h0M85.2 272.3h0M99.9 278.9h0M99.2 264.0h0M106.1 281.0h0M90.1 271.1h0M101.2 269.1h0M99.6 280.5h0M87.8 265.2h0M89.7 266.4h0M85.8 262.8h0M93.9 270.8h0M86.7 275.3h0M105.7 275.2h0M92.8 278.7h0M94.6 263.9h0M95.6 259.5h0M99.9 263.5h0M101.9 282.4h0M99.1 276.8h0M100.5 286.1h0M89.3 280.5h0M91.6 266.2h0M103.1 275.8h0M103.7 283.5h0M98.0 264.6h0M85.3 274.0h0M101.0 266.6h0M88.8 278.5h0M85.1 265.4h0M90.8 278.9h0M92.4 273.6h0M92.0 270.7h0M95.5 266.2h0M86.2 261.3h0M88.6 261.6h0M98.7 278.5h0M90.8 281.2h0M101.0 268.6h0M95.8 264.3h0M105.4 274.7h0M86.1 263.3h0M100.2 269.8h0M100.8 265.4h0M102.5 281.5h0M87.1 275.4h0M89.2 278.8h0M102.7 281.2h0M90.1 261.6h0M99.6 274.8h0M88.0 264.4h0M97.8 262.0h0M98.9 265.7h0M90.7 270.9h0M96.7 279.3h0M89.9 267.1h0M99.1 278.4h0M98.5 284.3h0M89.5 267.7h0M99.6 266.3h0M88.5 265.3h0M102.0 282.2h0M100.8 285.8h0M102.5 267.7h0M91.9 279.2h0M86.2 276.1h0M87.0 260.4h0M96.3 263.2h0M105.5 283.6h0M95.2 264.5h0M87.6 273.2h0M96.5 269.2h0M100.8 273.8h0M86.5 269.8h0M95.6 266.1h0M99.7 265.2h0M92.0 272.4h0M100.7 280.6h0M93.2 271.5h0M105.4 285.1h0M98.6 261.9h0M95.0 276.8h0M91.1 260.0h0M106.6 284.5h0M87.8 272.0h0M98.6 267.4h0M102.0 271.2h0M86.9 270.0h0M86.1 267.1h0M87.3 261.0h0M88.6 273.9h0M88.8 280.4h0M94.4 268.5h0M87.7 265.8h0M90.7 279.7h0M104.6 284.3h0M98.3 267.1h0M95.2 279.0h0M101.1 262.6h0M92.5 265.9h0M90.6 272.1h0M103.8 268.0h0M88.8 279.9h0M92.5 264.3h0M94.2 282.0h0M104.0 275.1h0M98.3 284.2h0M105.9 268.2h0M103.7 281.9h0M90.9 269.2h0M93.2 268.9h0M93.3 262.1h0M94.0 276.8h0M104.5 280.2h0M101.0 280.1h0M102.9 266.1h0M99.4 269.7h0M96.9 268.4h0M103.1 268.7h0M103.6 282.7h0M105.6 279.8h0M99.9 277.3h0M97.1 271.8h0M92.5 280.9h0M102.2 283.4h0M89.7 268.5h0M90.5 261.8h0M92.2 259.7h0M102.5 265.4h0M86.6 260.9h0M101.3 264.6h0M94.8 267.5h0M89.9 275.8h0M108.6 269.9h0M90.0 284.5h0M98.3 256.8h0M98.8 282.9h0M96.6 270.4h0M93.3 284.7h0M101.3 260.5h0M91.6 266.1h0M81.1 274.3h0M93.8 278.8h0M93.7 256.3h0M96.8 282.5h0M105.2 265.8h0M87.1 279.8h0M105.7 260.9h0M93.9 266.7h0M86.5 263.9h0M90.5 279.4h0M86.0 272.7h0M96.0 277.1h0M105.4 259.6h0M109.1 272.9h0M91.6 286.3h0M96.1 285.4h0M96.3 286.6h0M97.9 258.2h0M100.2 281.9h0M93.6 274.7h0M88.3 262.9h0M93.4 271.5h0M95.0 256.3h0M80.2 265.2h0M102.9 279.9h0M87.6 262.2h0M96.5 259.3h0M99.3 285.5h0M86.5 274.1h0M103.1 280.0h0M102.8 278.6h0M88.7 283.2h0M109.6 254.9h0M110.2 268.9h0M82.8 255.5h0M105.5 277.4h0M84.5 269.6h0M90.8 280.6h0M87.8 260.2h0M85.2 267.8h0M99.8 263.9h0M85.2 260.9h0M82.7 260.0h0M90.1 271.2h0M85.9 270.3h0M95.6 287.0h0M95.1 260.1h0M98.9 258.2h0M85.4 255.6h0M92.9 265.7h0M93.6 265.7h0M102.1 267.1h0M91.3 275.7h0M109.4 267.5h0M93.8 263.7h0M97.7 276.9h0M84.7 266.2h0M98.9 277.4h0M97.6 267.5h0M85.8 257.2h0M80.9 264.6h0M95.3 270.8h0M91.6 285.2h0M91.2 272.2h0M95.3 265.0h0M92.4 274.9h0M105.2 262.4h0M91.9 267.0h0M91.6 285.9h0M97.2 262.9h0M90.6 282.6h0M85.1 277.8h0M80.7 260.0h0M81.9 282.0h0M84.7 261.2h0M81.8 262.5h0M103.5 278.9h0M97.6 286.2h0M93.9 259.9h0M92.3 256.4h0M81.2 255.0h0M102.7 275.7h0M83.6 258.8h0M85.8 274.9h0M93.9 267.1h0M88.1 261.4h0M102.6 259.3h0M85.8 258.5h0M91.2 279.5h0M81.9 272.1h0M101.8 254.2h0M94.1 281.5h0M98.4 269.3h0M108.2 274.6h0M90.8 267.3h0M109.3 273.2h0M84.6 259.3h0M92.3 277.9h0M80.1 281.9h0M105.2 271.5h0M80.2 281.7h0M93.3 277.1h0M98.2 279.2h0M99.7 264.4h0M92.1 262.7h0M90.2 280.3h0M88.4 275.0h0M85.1 283.9h0M95.6 262.9h0M109.5 256.0h0M84.8 280.4h0M98.3 285.7h0M98.8 268.4h0M109.9 256.1h0M104.9 256.7h0M88.9 257.1h0M107.9 268.9h0M103.2 262.2h0M103.4 276.4h0M83.1 270.8h0M103.1 260.7h0M100.9 263.0h0M91.9 286.1h0M93.7 273.6h0M94.6 284.1h0M95.1 257.3h0M104.0 258.2h0M101.7 254.9h0M103.7 257.7h0M100.4 266.6h0M88.0 282.3h0M81.1 270.2h0M108.6 254.2h0M94.9 269.9h0M103.0 279.2h0M85.9 257.9h0M106.1 257.3h0M85.9 271.0h0M90.8 258.9h0M109.8 270.1h0M105.1 262.0h0M109.2 261.0h0M100.2 272.2h0M107.4 269.0h0M105.8 277.6h0M103.8 261.4h0M94.8 282.6h0M85.1 277.6h0M97.7 267.6h0M85.4 257.9h0M95.0 270.8h0M88.6 266.2h0M97.7 280.4h0M98.9 258.8h0M108.4 266.2h0M84.5 274.0h0M110.9 266.9h0M97.5 264.3h0M80.9 260.4h0M84.0 263.2h0M100.1 273.3h0M100.3 272.6h0M91.5 274.8h0M97.7 260.4h0M96.2 257.3h0M139.7 276.7h0M138.0 260.0h0M133.8 282.6h0M136.3 280.6h0M131.7 282.0h0M135.2 268.1h0M137.8 261.7h0M131.8 263.7h0M133.1 276.5h0M137.1 264.0h0M138.2 273.8h0M133.0 282.5h0M131.6 263.5h0M130.2 263.7h0M136.2 280.0h0M130.2 272.6h0M136.0 274.0h0M133.8 273.6h0M133.9 265.9h0M138.6 266.0h0M129.3 271.9h0M133.4 268.4h0M138.7 265.6h0M134.3 272.6h0M140.9 275.1h0M130.5 261.7h0M129.2 268.3h0M133.9 267.7h0M131.4 263.9h0M132.3 268.1h0M134.0 264.1h0M128.6 263.1h0M139.9 276.2h0M130.2 275.6h0M132.7 262.6h0M138.4 277.9h0M135.1 264.2h0M137.4 270.8h0M137.3 262.3h0M131.1 270.0h0M130.8 262.2h0M132.7 266.7h0M137.4 265.6h0M133.6 277.2h0M134.0 263.9h0M129.4 272.6h0M134.8 264.9h0M137.4 272.4h0M139.3 267.3h0M134.6 263.5h0M134.8 263.2h0M137.6 277.4h0M132.5 261.3h0M136.2 278.1h0M132.9 277.4h0M133.1 277.8h0M140.1 275.9h0M138.0 262.9h0M133.3 276.8h0M133.0 281.9h0M140.1 274.7h0M141.6 276.1h0M141.3 274.1h0M130.8 273.0h0M134.8 268.4h0M133.2 272.8h0M136.2 265.6h0M131.9 272.6h0M135.1 270.5h0M137.3 264.6h0M135.4 266.9h0M138.8 277.6h0M138.9 272.9h0M135.2 269.4h0M132.1 270.1h0M134.8 278.3h0M131.0 271.3h0M133.0 267.7h0M133.0 278.9h0M138.3 265.2h0M131.3 279.6h0M137.2 276.9h0M136.9 277.3h0M131.8 261.5h0M139.3 265.7h0M132.7 262.7h0M139.1 278.4h0M134.8 269.2h0M131.8 272.2h0M134.1 270.5h0M130.6 263.9h0M139.9 268.3h0M134.0 264.8h0M138.8 269.4h0M134.2 269.9h0M136.3 266.4h0M133.2 279.0h0M132.7 277.0h0M136.7 264.7h0M136.6 267.3h0M136.2 274.4h0M132.6 276.1h0M136.4 272.8h0M129.7 265.3h0M132.4 270.4h0M26.3 260.0h0M52.0 262.7h0M74.2 280.8h0M84.6 281.7h0M158.8 257.3h0M167.0 260.8h0M171.8 260.8h0M157.0 269.0h0M164.4 276.7h0M149.8 285.4h0M136.3 259.0h0M140.0 262.0h0M143.0 268.0h0M145.0 275.0h0M76.0 262.0h0" stroke="#000" stroke-width="1.1" stroke-linecap="round" fill="none"/>
<path d="M131.0 262.5h0M132.5 264.0h0" stroke="#2a7a68" stroke-width="1.1" stroke-linecap="round" fill="none"/>
<text x="23.80" y="173.80" font-size="4.6" fill="#4c3fe0" text-anchor="start" textLength="13.1" lengthAdjust="spacingAndGlyphs" stroke="#4c3fe0" stroke-width="0.15">Gimap4</text>
<text x="27.00" y="180.00" font-size="4.6" fill="#4c3fe0" text-anchor="start" textLength="13.8" lengthAdjust="spacingAndGlyphs" stroke="#4c3fe0" stroke-width="0.15">Gimap7</text>
<text x="53.10" y="221.00" font-size="4.6" fill="#4c3fe0" text-anchor="start" textLength="10.0" lengthAdjust="spacingAndGlyphs" stroke="#4c3fe0" stroke-width="0.15">Txnip</text>
<text x="48.20" y="230.00" font-size="4.6" fill="#4c3fe0" text-anchor="start" textLength="34.1" lengthAdjust="spacingAndGlyphs" stroke="#4c3fe0" stroke-width="0.15">Gimap1,arhgef3,12</text>
<text x="62.30" y="235.30" font-size="4.6" fill="#4c3fe0" text-anchor="start" textLength="11.5" lengthAdjust="spacingAndGlyphs" stroke="#4c3fe0" stroke-width="0.15">Klf2s1</text>
<text x="69.20" y="239.70" font-size="4.6" fill="#4c3fe0" text-anchor="start" textLength="13.9" lengthAdjust="spacingAndGlyphs" stroke="#4c3fe0" stroke-width="0.15">Ldhab8</text>
<text x="63.10" y="243.80" font-size="4.6" fill="#4c3fe0" text-anchor="start" textLength="4.6" lengthAdjust="spacingAndGlyphs" stroke="#4c3fe0" stroke-width="0.15">Js3</text>
<text x="70.30" y="249.20" font-size="4.6" fill="#4c3fe0" text-anchor="start" textLength="12.8" lengthAdjust="spacingAndGlyphs" stroke="#4c3fe0" stroke-width="0.15">Slfn5 fx</text>
<text x="71.50" y="252.70" font-size="4.6" fill="#4c3fe0" text-anchor="start" textLength="9.3" lengthAdjust="spacingAndGlyphs" stroke="#4c3fe0" stroke-width="0.15">Znf8l1</text>
<text x="86.20" y="251.80" font-size="4.6" fill="#4c3fe0" text-anchor="start" textLength="14.6" lengthAdjust="spacingAndGlyphs" stroke="#4c3fe0" stroke-width="0.15">Camk4f</text>
<text x="58.50" y="258.40" font-size="4.6" fill="#4c3fe0" text-anchor="start" textLength="12.3" lengthAdjust="spacingAndGlyphs" stroke="#4c3fe0" stroke-width="0.15">Cx3cr1</text>
<text x="77.70" y="259.20" font-size="4.6" fill="#4c3fe0" text-anchor="start" textLength="13.1" lengthAdjust="spacingAndGlyphs" stroke="#4c3fe0" stroke-width="0.15">S1pr5l3</text>
<text x="142.40" y="253.10" font-size="4.6" fill="#dc5050" text-anchor="start" textLength="6.9" lengthAdjust="spacingAndGlyphs" stroke="#dc5050" stroke-width="0.1">Ier2</text>
<text x="152.80" y="253.60" font-size="4.6" fill="#dc5050" text-anchor="start" textLength="12.9" lengthAdjust="spacingAndGlyphs" stroke="#dc5050" stroke-width="0.1">Nr4a2</text>
<text x="181.30" y="223.30" font-size="2.6" fill="#444" text-anchor="start" >sig</text>
<rect x="181.60000000000002" y="225.60" width="2.3" height="2.2" fill="#4a3f78"/>
<text x="185.10" y="227.60" font-size="2.2" fill="#666" text-anchor="start" >down</text>
<rect x="181.60000000000002" y="229.00" width="2.3" height="2.2" fill="#a08a98"/>
<text x="185.10" y="231.00" font-size="2.2" fill="#666" text-anchor="start" >nc</text>
<rect x="181.60000000000002" y="232.40" width="2.3" height="2.2" fill="#2a1a1a"/>
<text x="185.10" y="234.40" font-size="2.2" fill="#666" text-anchor="start" >up</text>
<text x="99.0" y="297.8" font-size="2.4" fill="#999" text-anchor="middle">log2FC</text>
<rect x="18.7" y="310" width="160.3" height="124.80000000000001" fill="none" stroke="#e4e4e4" stroke-width="0.7"/>
<line x1="26.50" y1="310.00" x2="26.50" y2="434.80" stroke="#f2f2f2" stroke-width="0.6"/>
<line x1="67.60" y1="310.00" x2="67.60" y2="434.80" stroke="#f2f2f2" stroke-width="0.6"/>
<line x1="109.60" y1="310.00" x2="109.60" y2="434.80" stroke="#f2f2f2" stroke-width="0.6"/>
<line x1="149.80" y1="310.00" x2="149.80" y2="434.80" stroke="#f2f2f2" stroke-width="0.6"/>
<line x1="47.05" y1="310.00" x2="47.05" y2="434.80" stroke="#f8f8f8" stroke-width="0.4"/>
<line x1="88.60" y1="310.00" x2="88.60" y2="434.80" stroke="#f8f8f8" stroke-width="0.4"/>
<line x1="129.70" y1="310.00" x2="129.70" y2="434.80" stroke="#f8f8f8" stroke-width="0.4"/>
<line x1="18.70" y1="328.50" x2="179.00" y2="328.50" stroke="#f2f2f2" stroke-width="0.6"/>
<line x1="18.70" y1="354.50" x2="179.00" y2="354.50" stroke="#f2f2f2" stroke-width="0.6"/>
<line x1="18.70" y1="380.50" x2="179.00" y2="380.50" stroke="#f2f2f2" stroke-width="0.6"/>
<line x1="18.70" y1="406.50" x2="179.00" y2="406.50" stroke="#f2f2f2" stroke-width="0.6"/>
<line x1="18.70" y1="432.50" x2="179.00" y2="432.50" stroke="#f2f2f2" stroke-width="0.6"/>
<line x1="18.70" y1="341.50" x2="179.00" y2="341.50" stroke="#f8f8f8" stroke-width="0.4"/>
<line x1="18.70" y1="367.50" x2="179.00" y2="367.50" stroke="#f8f8f8" stroke-width="0.4"/>
<line x1="18.70" y1="393.50" x2="179.00" y2="393.50" stroke="#f8f8f8" stroke-width="0.4"/>
<line x1="18.70" y1="419.50" x2="179.00" y2="419.50" stroke="#f8f8f8" stroke-width="0.4"/>
<text x="26.50" y="437.80" font-size="2.4" fill="#aaa" text-anchor="middle" >-2</text>
<text x="67.60" y="437.80" font-size="2.4" fill="#aaa" text-anchor="middle" >-1</text>
<text x="109.60" y="437.80" font-size="2.4" fill="#aaa" text-anchor="middle" >0</text>
<text x="149.80" y="437.80" font-size="2.4" fill="#aaa" text-anchor="middle" >1</text>
<text x="17.90" y="329.30" font-size="2.4" fill="#aaa" text-anchor="end" >40</text>
<text x="17.90" y="355.30" font-size="2.4" fill="#aaa" text-anchor="end" >30</text>
<text x="17.90" y="381.30" font-size="2.4" fill="#aaa" text-anchor="end" >20</text>
<text x="17.90" y="407.30" font-size="2.4" fill="#aaa" text-anchor="end" >10</text>
<text x="17.90" y="433.30" font-size="2.4" fill="#aaa" text-anchor="end" >0</text>
<text x="0" y="0" font-size="2.4" fill="#999" text-anchor="middle" transform="translate(15.5,372.4) rotate(-90)">-log10(pvalue)</text>
<text x="0" y="0" font-size="10.05" fill="#000" stroke="#000" stroke-width="0.2" transform="translate(79.50,305.65) scale(1,1.06)">NK cells</text>
<polygon points="90.0,410.5 95.0,411.5 100.0,415.5 105.0,422.5 108.8,426.5 111.3,427.5 115.0,425.0 118.5,421.0 121.0,418.0 123.5,421.0 121.3,427.0 116.3,430.5 110.0,431.3 103.8,430.0 98.8,427.0 93.0,423.0 89.0,418.0" fill="#000"/>
<path d="M97.4 422.7h0M116.5 427.4h0M98.3 426.6h0M90.9 418.4h0M96.9 423.5h0M115.8 428.0h0M98.0 426.2h0M92.1 420.1h0M92.2 412.4h0M101.7 419.5h0M101.8 428.4h0M101.3 417.5h0M100.7 419.2h0M104.8 427.8h0M101.9 425.8h0M90.0 415.1h0M122.1 424.7h0M95.0 423.9h0M105.7 423.3h0M93.6 416.9h0M104.3 427.8h0M101.6 419.8h0M104.2 427.8h0M89.9 417.5h0M91.3 412.0h0M94.5 416.6h0M98.7 426.0h0M96.7 415.0h0M114.7 428.7h0M101.0 425.7h0M120.7 420.3h0M106.5 426.9h0M101.2 427.4h0M92.3 416.2h0M102.0 422.5h0M96.5 419.6h0M118.8 426.9h0M112.4 427.5h0M104.1 424.5h0M92.5 419.1h0M95.3 422.5h0M95.6 420.4h0M106.4 427.9h0M101.8 420.5h0M108.0 425.7h0M99.4 420.1h0M101.8 426.9h0M113.1 426.7h0M104.1 426.5h0M95.1 419.0h0M104.9 422.5h0M97.5 422.1h0M93.5 416.7h0M96.1 423.9h0M100.2 422.9h0M107.8 427.3h0M102.6 420.9h0M111.3 427.8h0M102.6 426.2h0M104.2 426.4h0M97.2 422.2h0M104.3 429.5h0M99.4 422.7h0M99.4 425.4h0M89.7 418.3h0M93.4 420.3h0M92.1 414.5h0M97.7 415.5h0M121.6 419.0h0M109.6 428.5h0M92.5 411.8h0M98.5 423.9h0M93.0 421.1h0M106.4 425.5h0M101.9 419.1h0M95.1 415.9h0M105.0 425.3h0M92.6 420.4h0M90.5 414.5h0M114.6 425.4h0M99.8 418.2h0M116.6 428.0h0M118.1 424.4h0M94.9 413.7h0M99.4 416.1h0M97.5 416.5h0M116.9 425.0h0M108.0 427.4h0M94.3 421.7h0M98.2 418.8h0M108.8 426.7h0M121.0 418.2h0M92.5 417.4h0M113.4 429.9h0M121.3 426.7h0M112.6 429.1h0M93.4 413.3h0M104.4 427.0h0M91.6 419.9h0M103.3 428.2h0M97.2 416.8h0M100.1 423.1h0M92.2 411.7h0M103.6 427.9h0M113.1 430.6h0M117.9 422.7h0M93.0 423.0h0M119.3 424.3h0M117.5 429.1h0M97.5 422.5h0M100.4 421.8h0M121.0 422.3h0M120.5 422.3h0M114.1 430.6h0M113.3 430.2h0M89.5 417.2h0M97.2 418.4h0M96.8 425.2h0M100.2 422.7h0M100.9 427.2h0M95.0 422.1h0M115.7 430.0h0M89.6 416.1h0M106.0 430.0h0M102.7 421.9h0M93.6 416.8h0M117.3 427.6h0M115.4 426.6h0M110.9 427.8h0M99.8 424.7h0M112.6 428.2h0M97.7 421.8h0M92.4 416.4h0M92.7 417.8h0M91.9 415.6h0M111.9 428.7h0M90.1 417.6h0M113.6 426.8h0M107.3 425.0h0M93.4 418.5h0M99.1 416.4h0M100.2 416.4h0M118.8 423.8h0M104.5 422.3h0M106.3 426.5h0M94.4 419.5h0M102.2 428.0h0M114.5 429.7h0M121.0 420.4h0M120.8 423.8h0M118.3 427.5h0M101.9 427.7h0M101.9 419.1h0M108.9 429.0h0M121.6 423.7h0M101.1 419.2h0M99.9 420.8h0M90.9 413.8h0M100.9 426.8h0M90.5 411.9h0M95.4 414.3h0M92.5 417.5h0M119.0 426.8h0M97.0 425.1h0M99.3 425.5h0M101.1 426.3h0M108.8 427.5h0M108.0 426.2h0M97.9 424.3h0M104.3 425.7h0M99.7 417.6h0M92.3 417.7h0M94.1 412.5h0M97.7 421.2h0M89.5 417.4h0M103.8 429.2h0M96.3 412.9h0M95.2 415.7h0M99.5 421.4h0M115.7 425.6h0M97.2 421.6h0M106.2 424.3h0M95.6 423.5h0M90.4 416.2h0M93.1 413.6h0M110.5 428.4h0M93.4 415.0h0M107.8 430.1h0M115.7 426.1h0M116.0 425.5h0M100.0 424.7h0M103.2 426.1h0M102.3 427.2h0M105.3 427.4h0M99.4 421.8h0M120.9 419.6h0M109.5 427.4h0M90.4 413.3h0M96.2 413.5h0M120.0 424.3h0M118.0 425.7h0M94.0 421.2h0M98.2 415.5h0M104.9 424.0h0M108.7 429.0h0M89.6 417.3h0M120.8 420.6h0M119.3 425.0h0M114.2 426.3h0M99.4 425.7h0M96.1 422.0h0M94.8 417.7h0M117.4 427.2h0M96.3 412.7h0M114.0 426.0h0M120.8 424.0h0M106.0 426.2h0M103.9 422.2h0M101.5 418.6h0M102.6 419.8h0M98.9 420.2h0M119.8 427.9h0M97.3 415.8h0M113.1 427.1h0M118.8 428.3h0M92.9 422.8h0M96.9 417.6h0M104.2 427.4h0M103.2 423.5h0M90.2 413.1h0M99.6 423.4h0M120.1 421.2h0M97.8 422.7h0M98.5 426.8h0M82.3 410.0h0M82.5 408.4h0M81.8 408.9h0M86.0 413.1h0M95.0 413.3h0M89.0 413.1h0M95.3 424.8h0M90.0 419.7h0M87.0 410.2h0M86.6 420.1h0M88.7 416.1h0M83.3 408.1h0M86.1 419.7h0M93.9 414.0h0M80.4 410.0h0M90.6 411.5h0M84.2 410.7h0M84.9 412.0h0M95.6 422.1h0M93.7 424.4h0M79.9 407.8h0M84.4 416.2h0M96.3 417.5h0M88.0 409.6h0M92.7 412.2h0M81.1 408.6h0M92.5 419.7h0M84.9 410.3h0M86.3 408.3h0M84.2 407.8h0M92.2 419.1h0M89.7 408.1h0M82.7 409.6h0M89.8 415.0h0M90.6 420.7h0M97.8 414.8h0M79.4 411.3h0M93.4 422.3h0M87.6 407.6h0M92.8 411.3h0M81.8 407.8h0M87.5 406.9h0M87.1 416.7h0M90.6 413.3h0M97.2 425.2h0M95.1 416.3h0M95.5 417.2h0M81.5 409.9h0M85.8 413.4h0M90.3 406.3h0M93.8 422.3h0M95.7 424.3h0M85.7 407.3h0M95.0 419.9h0M86.8 411.9h0M86.1 411.4h0M89.8 421.1h0M97.5 412.1h0M93.6 413.3h0M97.1 421.5h0M90.7 412.3h0M95.8 411.0h0M80.8 408.5h0M96.0 416.2h0M90.6 416.4h0M87.6 416.8h0M81.2 407.2h0M93.1 418.7h0M95.9 419.9h0M79.2 409.4h0M90.2 421.7h0M82.3 416.1h0M97.9 421.2h0M87.4 415.0h0M95.4 419.6h0M89.2 422.4h0M93.4 414.4h0M90.8 422.5h0M94.0 415.3h0M86.1 420.4h0M96.3 412.6h0M80.0 406.8h0M85.8 410.0h0M88.4 405.8h0M90.7 414.2h0M85.5 417.9h0M81.6 411.9h0M81.6 413.7h0M84.7 405.3h0M90.1 410.9h0M93.1 416.9h0M91.5 410.9h0M94.4 419.9h0M94.0 414.8h0M88.7 410.6h0M91.9 408.3h0M97.1 424.2h0M96.9 422.8h0M89.3 408.0h0M79.1 412.1h0M86.3 417.7h0M85.9 411.0h0M91.4 423.0h0M90.8 412.3h0M86.7 417.4h0M93.6 412.0h0M82.0 405.8h0M88.6 422.3h0M90.2 410.3h0M94.3 419.4h0M96.7 413.4h0M90.7 423.5h0M91.1 407.4h0M98.4 414.1h0M82.9 413.5h0M91.4 413.9h0M79.1 406.1h0M97.1 424.3h0M94.8 417.8h0M88.1 409.5h0M83.4 405.7h0M83.7 414.1h0M85.6 414.9h0M82.4 413.3h0M93.7 411.5h0M93.1 412.5h0M94.9 414.9h0M88.9 419.8h0M91.8 413.7h0M82.9 414.7h0M85.9 409.1h0M92.2 421.0h0M100.0 413.0h0M98.7 414.0h0M92.7 423.9h0M83.3 411.9h0M85.4 415.0h0M94.6 418.5h0M98.5 419.4h0M79.0 405.6h0M92.3 408.7h0M97.0 413.5h0M92.0 416.5h0M79.1 409.7h0M85.3 418.0h0M95.4 413.0h0M90.0 413.7h0M94.5 420.1h0M82.0 404.8h0M96.4 419.5h0M92.2 411.2h0M86.2 412.0h0M96.0 422.2h0M79.3 406.1h0M96.7 423.1h0M89.8 409.4h0M99.6 413.5h0M95.2 422.4h0M95.3 425.3h0M94.8 409.2h0M85.8 411.9h0M88.1 406.9h0M93.7 416.0h0M95.1 411.7h0M87.7 421.1h0M93.8 424.4h0M94.5 417.2h0M87.6 417.0h0M80.6 406.2h0M85.5 406.8h0M94.4 418.2h0M96.3 418.2h0M83.8 417.0h0M87.3 410.2h0M82.6 410.1h0M85.3 416.4h0M91.1 418.7h0M91.3 422.1h0M81.7 406.6h0M81.8 404.5h0M84.4 412.8h0M84.5 409.6h0M85.8 413.5h0M86.6 411.5h0M94.5 415.3h0M79.1 409.4h0M97.9 414.5h0M89.5 416.9h0M81.5 411.3h0M92.0 419.5h0M92.2 418.3h0M86.9 405.6h0M97.2 424.8h0M82.6 412.0h0M96.2 423.2h0M84.5 417.2h0M93.1 409.4h0M87.0 406.3h0M81.9 410.4h0M92.4 418.7h0M94.8 408.8h0M90.2 407.9h0M84.1 407.4h0M80.6 412.1h0M97.6 419.1h0M80.8 409.0h0M91.4 416.2h0M79.6 406.2h0M90.9 417.8h0M84.0 417.6h0M90.1 411.8h0M98.9 413.1h0M87.9 416.4h0M96.6 426.7h0M95.2 416.4h0M94.1 418.7h0M95.0 409.0h0M90.9 414.1h0M89.3 413.8h0M93.8 420.7h0M95.8 410.1h0M93.1 415.4h0M98.7 414.3h0M88.9 416.2h0M85.5 406.4h0M89.2 405.6h0M82.6 414.2h0M86.3 415.5h0M90.1 412.9h0M84.9 412.1h0M89.4 422.3h0M79.1 407.1h0M83.3 412.5h0M87.4 412.9h0M99.3 414.1h0M92.5 417.7h0M96.4 411.7h0M90.2 417.4h0M86.8 418.8h0M86.7 410.3h0M84.7 415.2h0M80.6 413.5h0M95.4 420.4h0M97.7 412.2h0M96.1 414.8h0M97.7 415.0h0M84.4 407.5h0M82.2 415.0h0M88.8 406.5h0M94.2 415.7h0M91.8 423.8h0M82.5 409.5h0M91.2 414.6h0M88.9 407.2h0M94.1 416.4h0M87.2 414.3h0M97.7 414.4h0M81.2 414.5h0M89.9 422.1h0M82.9 410.4h0M91.8 406.2h0M94.8 413.7h0M80.0 406.0h0M80.6 412.9h0M89.8 416.4h0M88.4 411.5h0M96.4 419.9h0M81.5 406.4h0M80.1 410.1h0M95.0 414.9h0M81.5 409.0h0M92.1 423.7h0M79.2 404.2h0M97.8 416.9h0M91.7 418.1h0M95.2 415.9h0M81.4 409.1h0M81.2 409.8h0M95.7 416.6h0M91.2 409.5h0M86.7 414.0h0M92.4 408.2h0M91.2 411.4h0M88.9 420.4h0M85.6 417.8h0M96.2 414.7h0M92.2 410.6h0M84.4 415.7h0M90.2 409.1h0M95.1 415.5h0M86.5 409.8h0M96.6 424.7h0M93.3 411.7h0M88.3 419.7h0M82.4 412.4h0M95.5 419.7h0M91.3 406.4h0M83.6 409.9h0M119.4 420.5h0M125.7 425.5h0M124.6 418.3h0M122.4 417.4h0M119.0 415.4h0M121.4 420.2h0M125.1 417.6h0M127.4 419.7h0M126.8 418.0h0M119.4 417.1h0M121.0 421.7h0M126.7 423.5h0M120.1 417.3h0M128.7 415.1h0M120.7 424.6h0M119.8 419.0h0M125.9 412.3h0M123.0 411.7h0M126.9 420.6h0M125.5 425.9h0M124.9 410.5h0M127.4 412.1h0M129.8 417.9h0M122.9 420.9h0M127.5 417.3h0M122.3 416.6h0M127.6 413.1h0M120.9 417.7h0M126.9 410.2h0M122.2 422.9h0M124.8 424.7h0M127.4 420.2h0M124.8 421.0h0M125.3 412.3h0M127.3 411.3h0M122.7 424.3h0M125.8 418.2h0M127.5 417.9h0M123.6 418.9h0M119.3 415.3h0M120.9 424.4h0M122.4 423.5h0M126.8 419.9h0M127.9 413.8h0M129.0 418.8h0M122.1 416.4h0M124.9 418.8h0M123.3 421.4h0M125.4 418.0h0M122.1 413.0h0M127.0 415.1h0M125.2 410.9h0M125.0 426.2h0M128.1 415.5h0M119.6 424.2h0M123.7 416.7h0M126.3 418.5h0M128.3 420.7h0M126.9 410.3h0M123.4 417.5h0M126.6 410.1h0M125.7 422.3h0M120.9 422.7h0M98.7 430.3h0M96.5 417.5h0M99.7 425.8h0M93.9 421.4h0M80.4 410.8h0M84.8 427.5h0M76.8 410.5h0M85.8 412.4h0M100.6 417.1h0M93.9 414.1h0M88.8 430.6h0M83.3 416.8h0M89.4 404.5h0M79.4 416.2h0M99.0 413.8h0M76.4 420.8h0M79.4 408.3h0M87.6 424.2h0M88.1 413.4h0M87.1 416.7h0M80.7 404.2h0M91.5 411.2h0M95.3 411.7h0M88.0 410.2h0M91.0 409.0h0M95.1 413.2h0M96.2 409.3h0M88.7 417.8h0M96.6 420.9h0M87.9 402.7h0M78.4 404.7h0M80.5 405.9h0M94.9 410.9h0M82.4 405.9h0M79.3 421.8h0M92.4 408.0h0M99.3 421.6h0M87.9 419.4h0M94.7 414.1h0M77.7 411.7h0M94.2 402.8h0M98.2 427.7h0M86.2 411.9h0M90.4 408.1h0M81.3 404.1h0M95.6 416.3h0M101.2 430.2h0M101.2 419.7h0M93.6 414.0h0M87.7 404.7h0M91.4 408.8h0M92.2 428.0h0M83.8 418.5h0M83.3 426.6h0M81.3 420.7h0M91.6 410.4h0M77.4 415.6h0M90.7 426.2h0M81.1 405.9h0M84.2 425.7h0M82.0 420.3h0M76.0 402.6h0M96.2 415.9h0M78.4 415.1h0M91.7 413.5h0M90.2 401.4h0M85.4 409.1h0M93.1 417.7h0M81.0 401.1h0M91.9 400.5h0M75.7 405.3h0M94.6 419.6h0M90.7 400.4h0M100.1 415.2h0M81.5 413.0h0M77.3 418.6h0M81.6 422.5h0M80.2 422.1h0M93.5 422.8h0M95.5 412.7h0M101.8 426.4h0M97.9 419.2h0M82.8 429.1h0M85.1 426.3h0M95.4 426.9h0M99.1 414.5h0M86.9 425.5h0M94.6 417.3h0M75.4 414.9h0M81.8 404.3h0M97.6 421.7h0M87.3 419.1h0M91.6 430.4h0M90.2 417.3h0M88.9 413.2h0M95.7 403.6h0M95.8 429.7h0M97.8 417.4h0M85.6 403.1h0M77.8 417.3h0M101.4 427.7h0M80.5 424.0h0M99.2 415.4h0M85.1 416.5h0M96.8 414.4h0M84.1 427.7h0M86.8 413.4h0M81.7 415.5h0M96.2 411.6h0M94.9 415.8h0M83.6 417.5h0M76.9 406.6h0M129.3 405.1h0M124.9 417.3h0M123.1 412.0h0M136.3 415.6h0M124.2 419.5h0M122.0 417.5h0M131.7 406.3h0M129.9 412.0h0M133.4 420.0h0M136.4 419.8h0M123.3 408.8h0M132.7 425.1h0M121.1 414.8h0M125.1 416.2h0M135.7 418.6h0M133.4 423.9h0M125.0 420.1h0M126.8 416.3h0M129.5 421.3h0M123.0 425.8h0M122.9 412.1h0M126.6 428.8h0M123.6 404.9h0M133.7 408.2h0M122.2 413.3h0M121.5 416.2h0M126.2 423.2h0M128.9 429.1h0M135.2 408.5h0M136.5 427.3h0M130.2 417.7h0M123.1 412.3h0M124.0 409.1h0M131.1 412.4h0M133.8 418.9h0M134.9 406.3h0M135.2 417.2h0M131.4 410.2h0M132.5 414.6h0M133.0 419.2h0M122.5 411.8h0M133.5 404.4h0M131.4 418.2h0M132.9 412.6h0M128.6 416.4h0M133.5 405.9h0M129.2 410.7h0M130.6 410.7h0M123.7 410.0h0M136.1 413.5h0M135.8 423.1h0M124.8 418.4h0M131.4 406.9h0M129.3 416.9h0M132.1 411.5h0M136.4 420.2h0M135.9 411.9h0M132.8 426.4h0M135.9 405.8h0M135.1 410.5h0M134.4 421.9h0M128.4 427.4h0M137.3 418.9h0M133.2 421.4h0M51.2 407.0h0M77.0 430.0h0M81.0 423.0h0M132.0 407.0h0M138.0 405.0h0M142.0 410.0h0M138.0 418.0h0M150.0 427.0h0M124.0 408.0h0M127.0 404.0h0" stroke="#000" stroke-width="1.1" stroke-linecap="round" fill="none"/>
<path d="M130.0 408.5h0M131.5 409.5h0M129.0 412.5h0M131.0 413.0h0M133.0 412.0h0M128.0 409.8h0" stroke="#2a7a68" stroke-width="1.1" stroke-linecap="round" fill="none"/>
<text x="19.40" y="318.80" font-size="4.6" fill="#4c3fe0" text-anchor="start" textLength="12.6" lengthAdjust="spacingAndGlyphs" stroke="#4c3fe0" stroke-width="0.15">Gimap7</text>
<text x="42.90" y="330.00" font-size="4.6" fill="#4c3fe0" text-anchor="start" textLength="9.0" lengthAdjust="spacingAndGlyphs" stroke="#4c3fe0" stroke-width="0.15">Txnip</text>
<text x="39.20" y="348.90" font-size="4.6" fill="#4c3fe0" text-anchor="start" textLength="13.1" lengthAdjust="spacingAndGlyphs" stroke="#4c3fe0" stroke-width="0.15">Gimap4</text>
<text x="46.20" y="353.80" font-size="4.6" fill="#4c3fe0" text-anchor="start" textLength="12.3" lengthAdjust="spacingAndGlyphs" stroke="#4c3fe0" stroke-width="0.15">Gimap1</text>
<text x="52.30" y="358.50" font-size="4.6" fill="#4c3fe0" text-anchor="start" textLength="20.7" lengthAdjust="spacingAndGlyphs" stroke="#4c3fe0" stroke-width="0.15">Arhgef3,12</text>
<text x="56.20" y="363.00" font-size="4.6" fill="#4c3fe0" text-anchor="start" textLength="10.8" lengthAdjust="spacingAndGlyphs" stroke="#4c3fe0" stroke-width="0.15">Slfn5</text>
<text x="51.50" y="370.50" font-size="4.6" fill="#4c3fe0" text-anchor="start" textLength="7.7" lengthAdjust="spacingAndGlyphs" stroke="#4c3fe0" stroke-width="0.15">Klf3</text>
<text x="70.80" y="374.50" font-size="4.6" fill="#4c3fe0" text-anchor="start" textLength="10.7" lengthAdjust="spacingAndGlyphs" stroke="#4c3fe0" stroke-width="0.15">Klf3g</text>
<text x="46.20" y="379.70" font-size="4.6" fill="#4c3fe0" text-anchor="start" textLength="33.0" lengthAdjust="spacingAndGlyphs" stroke="#4c3fe0" stroke-width="0.15">Cx3cr1,arhgef3,8</text>
<text x="63.80" y="383.30" font-size="4.6" fill="#4c3fe0" text-anchor="start" textLength="3.2" lengthAdjust="spacingAndGlyphs" stroke="#4c3fe0" stroke-width="0.15">Ids</text>
<text x="60.80" y="387.30" font-size="4.6" fill="#4c3fe0" text-anchor="start" textLength="9.2" lengthAdjust="spacingAndGlyphs" stroke="#4c3fe0" stroke-width="0.15">Klf2</text>
<text x="70.80" y="391.00" font-size="4.6" fill="#4c3fe0" text-anchor="start" textLength="14.6" lengthAdjust="spacingAndGlyphs" stroke="#4c3fe0" stroke-width="0.15">Samd3a</text>
<text x="53.00" y="394.50" font-size="4.6" fill="#4c3fe0" text-anchor="start" textLength="17.0" lengthAdjust="spacingAndGlyphs" stroke="#4c3fe0" stroke-width="0.15">Dennd2d</text>
<text x="76.20" y="395.30" font-size="4.6" fill="#4c3fe0" text-anchor="start" textLength="10.0" lengthAdjust="spacingAndGlyphs" stroke="#4c3fe0" stroke-width="0.15">Spon2</text>
<text x="62.30" y="397.70" font-size="4.6" fill="#4c3fe0" text-anchor="start" textLength="11.5" lengthAdjust="spacingAndGlyphs" stroke="#4c3fe0" stroke-width="0.15">Acss2f</text>
<text x="61.80" y="401.80" font-size="4.6" fill="#4c3fe0" text-anchor="start" textLength="6.7" lengthAdjust="spacingAndGlyphs" stroke="#4c3fe0" stroke-width="0.15">Ccl4</text>
<text x="72.30" y="400.70" font-size="4.6" fill="#4c3fe0" text-anchor="start" textLength="10.7" lengthAdjust="spacingAndGlyphs" stroke="#4c3fe0" stroke-width="0.15">Fcrl6</text>
<text x="66.20" y="404.50" font-size="4.6" fill="#4c3fe0" text-anchor="start" textLength="21.5" lengthAdjust="spacingAndGlyphs" stroke="#4c3fe0" stroke-width="0.15">Myl2,tub2ap8</text>
<text x="163.50" y="369.60" font-size="4.6" fill="#dc5050" text-anchor="start" textLength="9.4" lengthAdjust="spacingAndGlyphs" stroke="#dc5050" stroke-width="0.1">Junb</text>
<text x="148.00" y="385.70" font-size="4.6" fill="#dc5050" text-anchor="start" textLength="11.4" lengthAdjust="spacingAndGlyphs" stroke="#dc5050" stroke-width="0.1">Nr4a2</text>
<text x="169.50" y="387.70" font-size="4.6" fill="#dc5050" text-anchor="start" textLength="8.8" lengthAdjust="spacingAndGlyphs" stroke="#dc5050" stroke-width="0.1">Jun</text>
<text x="130.90" y="389.80" font-size="4.6" fill="#dc5050" text-anchor="start" textLength="7.0" lengthAdjust="spacingAndGlyphs" stroke="#dc5050" stroke-width="0.1">Ier2</text>
<text x="154.70" y="392.20" font-size="4.6" fill="#dc5050" text-anchor="start" textLength="10.8" lengthAdjust="spacingAndGlyphs" stroke="#dc5050" stroke-width="0.1">Dusp1</text>
<text x="134.90" y="393.50" font-size="4.6" fill="#dc5050" text-anchor="start" textLength="15.1" lengthAdjust="spacingAndGlyphs" stroke="#dc5050" stroke-width="0.1">Ddit4c3</text>
<text x="133.20" y="397.20" font-size="4.6" fill="#dc5050" text-anchor="start" textLength="12.1" lengthAdjust="spacingAndGlyphs" stroke="#dc5050" stroke-width="0.1">Ppp1r15</text>
<text x="127.80" y="401.20" font-size="4.6" fill="#dc5050" text-anchor="start" textLength="12.8" lengthAdjust="spacingAndGlyphs" stroke="#dc5050" stroke-width="0.1">Snfga2</text>
<text x="145.30" y="401.60" font-size="4.6" fill="#dc5050" text-anchor="start" textLength="11.4" lengthAdjust="spacingAndGlyphs" stroke="#dc5050" stroke-width="0.1">Cxcr4</text>
<text x="131.20" y="405.90" font-size="4.6" fill="#dc5050" text-anchor="start" textLength="18.8" lengthAdjust="spacingAndGlyphs" stroke="#dc5050" stroke-width="0.1">Tsc22d3a</text>
<text x="181.30" y="367.50" font-size="2.6" fill="#444" text-anchor="start" >sig</text>
<rect x="181.60000000000002" y="369.80" width="2.3" height="2.2" fill="#4a3f78"/>
<text x="185.10" y="371.80" font-size="2.2" fill="#666" text-anchor="start" >down</text>
<rect x="181.60000000000002" y="373.20" width="2.3" height="2.2" fill="#a08a98"/>
<text x="185.10" y="375.20" font-size="2.2" fill="#666" text-anchor="start" >nc</text>
<rect x="181.60000000000002" y="376.60" width="2.3" height="2.2" fill="#2a1a1a"/>
<text x="185.10" y="378.60" font-size="2.2" fill="#666" text-anchor="start" >up</text>
<text x="98.8" y="440.6" font-size="2.4" fill="#999" text-anchor="middle">log2FC</text>
<text x="20.00" y="469.50" font-size="9.95" fill="#000" text-anchor="start" stroke="#000" stroke-width="0.2">Figure 1: A) Volcano plot indicating differential gene expression between timepoint 1 and 3 in the cell</text>
<text x="20.00" y="481.37" font-size="9.95" fill="#000" text-anchor="start" stroke="#000" stroke-width="0.2">population indicated. (Timepoint 2 and 4 did not met quality standard to perform this analysis) Genes that</text>
<text x="20.00" y="493.24" font-size="9.95" fill="#000" text-anchor="start" stroke="#000" stroke-width="0.2">decreased expression between time points are represented in blue and genes that increased expression in</text>
<text x="20.00" y="505.11" font-size="9.95" fill="#000" text-anchor="start" stroke="#000" stroke-width="0.2">red. B) Graphical representation of LISA and GIGGLE scores highlighting the transcription factors predicted</text>
<text x="20.00" y="516.98" font-size="9.95" fill="#000" text-anchor="start" stroke="#000" stroke-width="0.2">to control expression of the differentially expressed genes indicated in A. Color of each dot represents gene</text>
<text x="20.00" y="528.85" font-size="9.95" fill="#000" text-anchor="start" stroke="#000" stroke-width="0.2">expression compared to average of all expressed genes.</text>
<text x="253.00" y="12.60" font-size="9.7" fill="#000" text-anchor="start" stroke="#000" stroke-width="0.2">Timepoint 1</text>
<text x="325.80" y="12.90" font-size="10.25" fill="#000" text-anchor="start" stroke="#000" stroke-width="0.2">CD4 T cells</text>
<text x="405.30" y="12.80" font-size="9.7" fill="#000" text-anchor="start" stroke="#000" stroke-width="0.2">Timepoint 3</text>
<text x="254.50" y="168.40" font-size="9.7" fill="#000" text-anchor="start" stroke="#000" stroke-width="0.2">Timepoint 1</text>
<text x="329.80" y="169.70" font-size="10.25" fill="#000" text-anchor="start" stroke="#000" stroke-width="0.2">CD8 T cells</text>
<text x="405.80" y="168.90" font-size="9.7" fill="#000" text-anchor="start" stroke="#000" stroke-width="0.2">Timepoint 3</text>
<text x="254.30" y="314.20" font-size="9.7" fill="#000" text-anchor="start" stroke="#000" stroke-width="0.2">Timepoint 1</text>
<text x="334.50" y="314.70" font-size="10.25" fill="#000" text-anchor="start" stroke="#000" stroke-width="0.2">NK cells</text>
<text x="406.40" y="314.70" font-size="9.7" fill="#000" text-anchor="start" stroke="#000" stroke-width="0.2">Timepoint 3</text>
<line x1="210.80" y1="18.00" x2="210.80" y2="130.40" stroke="#8a8a8a" stroke-width="0.9"/>
<line x1="210.80" y1="130.40" x2="349.40" y2="130.40" stroke="#8a8a8a" stroke-width="0.9"/>
<line x1="209.50" y1="19.50" x2="210.80" y2="19.50" stroke="#8a8a8a" stroke-width="0.5"/>
<text x="209.00" y="20.60" font-size="3.2" fill="#666" text-anchor="end" >0.9</text>
<line x1="209.50" y1="56.20" x2="210.80" y2="56.20" stroke="#8a8a8a" stroke-width="0.5"/>
<text x="209.00" y="57.30" font-size="3.2" fill="#666" text-anchor="end" >0.6</text>
<line x1="209.50" y1="93.40" x2="210.80" y2="93.40" stroke="#8a8a8a" stroke-width="0.5"/>
<text x="209.00" y="94.50" font-size="3.2" fill="#666" text-anchor="end" >0.3</text>
<line x1="209.50" y1="130.30" x2="210.80" y2="130.30" stroke="#8a8a8a" stroke-width="0.5"/>
<text x="209.00" y="131.40" font-size="3.2" fill="#666" text-anchor="end" >0.0</text>
<line x1="216.30" y1="130.40" x2="216.30" y2="131.70" stroke="#8a8a8a" stroke-width="0.5"/>
<text x="216.30" y="134.70" font-size="3.2" fill="#666" text-anchor="middle" >0</text>
<line x1="264.30" y1="130.40" x2="264.30" y2="131.70" stroke="#8a8a8a" stroke-width="0.5"/>
<text x="264.30" y="134.70" font-size="3.2" fill="#666" text-anchor="middle" >5</text>
<line x1="312.20" y1="130.40" x2="312.20" y2="131.70" stroke="#8a8a8a" stroke-width="0.5"/>
<text x="312.20" y="134.70" font-size="3.2" fill="#666" text-anchor="middle" >10</text>
<text x="261.30" y="140.00" font-size="4.2" fill="#111" text-anchor="start" stroke="#111" stroke-width="0.12">LISA -log10(pvalue)</text>
<text x="0" y="0" font-size="4.3" fill="#111" stroke="#111" stroke-width="0.12" text-anchor="middle" transform="translate(201.20,74.70) rotate(-90)">GIGGLE -log10(score)</text>
<circle cx="223.00" cy="21.00" r="2.60" fill="#58ec1e"/>
<circle cx="227.50" cy="21.00" r="2.60" fill="#a4e050"/>
<circle cx="232.00" cy="21.00" r="2.60" fill="#58ec1e"/>
<circle cx="236.50" cy="21.00" r="2.60" fill="#58ec1e"/>
<circle cx="241.00" cy="21.00" r="2.60" fill="#a4e050"/>
<circle cx="245.50" cy="21.50" r="2.60" fill="#7cf030"/>
<circle cx="250.00" cy="21.50" r="2.60" fill="#84ec44"/>
<circle cx="254.00" cy="22.00" r="2.60" fill="#74ee38"/>
<circle cx="266.00" cy="21.50" r="2.60" fill="#a4e050"/>
<circle cx="270.50" cy="21.50" r="2.60" fill="#58ec1e"/>
<circle cx="275.00" cy="22.00" r="2.60" fill="#7cf030"/>
<circle cx="278.00" cy="28.00" r="2.60" fill="#74ee38"/>
<circle cx="276.00" cy="32.00" r="2.60" fill="#66f22c"/>
<circle cx="247.00" cy="24.00" r="2.60" fill="#58ec1e"/>
<circle cx="222.00" cy="25.00" r="2.60" fill="#60ea28"/>
<circle cx="226.00" cy="25.00" r="2.60" fill="#74ee38"/>
<circle cx="230.00" cy="25.00" r="2.60" fill="#66f22c"/>
<circle cx="234.00" cy="25.00" r="2.60" fill="#a4e050"/>
<circle cx="238.00" cy="25.00" r="2.60" fill="#5af020"/>
<circle cx="242.00" cy="25.50" r="2.60" fill="#7cf030"/>
<circle cx="251.00" cy="25.00" r="2.60" fill="#6cf428"/>
<circle cx="255.00" cy="25.00" r="2.60" fill="#58ec1e"/>
<circle cx="263.00" cy="25.00" r="2.60" fill="#7cf030"/>
<circle cx="267.00" cy="25.00" r="2.60" fill="#74ee38"/>
<circle cx="271.00" cy="25.00" r="2.60" fill="#7cf030"/>
<circle cx="275.00" cy="26.00" r="2.60" fill="#5af020"/>
<circle cx="224.00" cy="29.00" r="2.60" fill="#a4e050"/>
<circle cx="232.00" cy="29.00" r="2.60" fill="#66f22c"/>
<circle cx="236.00" cy="29.00" r="2.60" fill="#5af020"/>
<circle cx="240.00" cy="29.00" r="2.60" fill="#5af020"/>
<circle cx="250.00" cy="29.00" r="2.60" fill="#84ec44"/>
<circle cx="253.00" cy="28.00" r="2.60" fill="#84ec44"/>
<circle cx="260.00" cy="29.00" r="2.60" fill="#7cf030"/>
<circle cx="264.00" cy="29.00" r="2.60" fill="#5af020"/>
<circle cx="268.00" cy="29.00" r="2.60" fill="#58ec1e"/>
<circle cx="272.00" cy="29.00" r="2.60" fill="#96e84c"/>
<circle cx="276.00" cy="29.00" r="2.60" fill="#58ec1e"/>
<circle cx="230.00" cy="32.50" r="2.60" fill="#7cf030"/>
<circle cx="234.00" cy="33.00" r="2.60" fill="#84ec44"/>
<circle cx="238.00" cy="33.00" r="2.60" fill="#a4e050"/>
<circle cx="248.00" cy="33.00" r="2.60" fill="#84ec44"/>
<circle cx="256.00" cy="35.00" r="2.60" fill="#60ea28"/>
<circle cx="267.00" cy="33.00" r="2.60" fill="#58ec1e"/>
<circle cx="271.00" cy="33.00" r="2.60" fill="#5af020"/>
<circle cx="275.80" cy="37.70" r="2.60" fill="#66f22c"/>
<circle cx="247.00" cy="37.00" r="2.60" fill="#58ec1e"/>
<circle cx="251.00" cy="37.50" r="2.60" fill="#60ea28"/>
<circle cx="255.00" cy="38.00" r="2.60" fill="#6cf428"/>
<circle cx="261.50" cy="38.80" r="2.60" fill="#a4e050"/>
<circle cx="270.00" cy="37.00" r="2.60" fill="#66f22c"/>
<circle cx="274.00" cy="36.00" r="2.60" fill="#60ea28"/>
<circle cx="249.60" cy="40.40" r="2.60" fill="#96e84c"/>
<circle cx="253.00" cy="41.00" r="2.60" fill="#84ec44"/>
<circle cx="258.00" cy="42.00" r="2.60" fill="#a4e050"/>
<circle cx="262.00" cy="41.00" r="2.60" fill="#60ea28"/>
<circle cx="254.20" cy="44.20" r="2.60" fill="#5af020"/>
<circle cx="258.00" cy="45.00" r="2.60" fill="#66f22c"/>
<circle cx="262.00" cy="45.00" r="2.60" fill="#7cf030"/>
<circle cx="260.40" cy="47.30" r="2.60" fill="#66f22c"/>
<circle cx="259.80" cy="50.40" r="2.60" fill="#6cf428"/>
<circle cx="228.00" cy="27.50" r="2.30" fill="#8cec5c"/>
<circle cx="244.00" cy="31.00" r="2.40" fill="#8cec5c"/>
<circle cx="262.00" cy="33.00" r="2.30" fill="#8cec5c"/>
<circle cx="252.00" cy="43.00" r="2.30" fill="#8cec5c"/>
<circle cx="273.50" cy="25.00" r="2.40" fill="#8cec5c"/>
<circle cx="264.00" cy="38.00" r="2.30" fill="#8cec5c"/>
<circle cx="216.90" cy="23.10" r="2.80" fill="#a0b440"/>
<circle cx="219.60" cy="25.80" r="2.50" fill="#8aa0a8"/>
<circle cx="227.70" cy="28.50" r="2.40" fill="#a8d236"/>
<circle cx="252.30" cy="34.20" r="2.40" fill="#a8ac3a"/>
<circle cx="262.70" cy="35.80" r="2.40" fill="#a8d236"/>
<circle cx="260.00" cy="22.70" r="2.40" fill="#c0a838"/>
<circle cx="271.20" cy="42.70" r="2.50" fill="#a8ac3a"/>
<circle cx="246.80" cy="27.70" r="2.60" fill="#5a4ae0"/>
<circle cx="256.50" cy="30.80" r="2.50" fill="#5a4ae0"/>
<circle cx="280.40" cy="24.20" r="2.70" fill="#5a4ae0"/>
<circle cx="279.60" cy="33.50" r="2.70" fill="#5a4ae0"/>
<circle cx="243.10" cy="36.90" r="2.80" fill="#e8321a"/>
<circle cx="266.50" cy="43.10" r="2.60" fill="#e8321a"/>
<circle cx="286.00" cy="29.40" r="2.60" fill="#e8321a"/>
<circle cx="282.70" cy="31.70" r="2.40" fill="#a8d236"/>
<circle cx="283.80" cy="37.30" r="2.60" fill="#d05a22"/>
<circle cx="303.50" cy="25.50" r="2.60" fill="#52ea22"/>
<circle cx="319.60" cy="25.50" r="2.70" fill="#a8c838"/>
<circle cx="296.50" cy="33.20" r="2.60" fill="#a8d236"/>
<circle cx="295.80" cy="34.80" r="2.70" fill="#b0c838"/>
<circle cx="305.80" cy="34.00" r="2.60" fill="#c0a030"/>
<circle cx="302.70" cy="42.00" r="2.50" fill="#7c9c8c"/>
<circle cx="311.90" cy="59.30" r="2.50" fill="#8ce828"/>
<circle cx="265.60" cy="60.60" r="2.60" fill="#a8b040"/>
<circle cx="268.00" cy="60.60" r="2.60" fill="#a8b040"/>
<circle cx="277.70" cy="66.30" r="2.30" fill="#3aea0a"/>
<circle cx="280.40" cy="76.00" r="2.20" fill="#5cd050"/>
<circle cx="286.20" cy="79.20" r="2.20" fill="#3ae812"/>
<circle cx="272.70" cy="84.60" r="2.00" fill="#80a080"/>
<circle cx="288.70" cy="100.00" r="1.90" fill="#b09040"/>
<circle cx="343.20" cy="125.40" r="0.60" fill="#d8d040"/>
<text x="226.90" y="22.30" font-size="4.3" fill="#000" text-anchor="start" >SAP30</text>
<text x="248.80" y="22.30" font-size="4.3" fill="#000" text-anchor="start" >MAX</text>
<text x="271.50" y="22.30" font-size="4.3" fill="#000" text-anchor="start" >TAF1</text>
<text x="235.00" y="29.00" font-size="4.3" fill="#000" text-anchor="start" >ZFX</text>
<text x="261.20" y="28.40" font-size="4.3" fill="#000" text-anchor="start" >MYC</text>
<text x="250.30" y="34.20" font-size="4.3" fill="#000" text-anchor="start" >MEN1</text>
<text x="265.80" y="35.00" font-size="4.3" fill="#000" text-anchor="start" >CTCF</text>
<text x="284.20" y="27.80" font-size="4.3" fill="#000" text-anchor="start" >SPI1</text>
<text x="302.00" y="23.20" font-size="4.3" fill="#000" text-anchor="start" >CDK9</text>
<text x="296.50" y="31.70" font-size="4.3" fill="#000" text-anchor="start" >KMT2A</text>
<text x="318.00" y="30.90" font-size="4.3" fill="#000" text-anchor="start" >BRD4</text>
<text x="283.30" y="37.50" font-size="4.3" fill="#000" text-anchor="start" >RELA</text>
<text x="305.00" y="39.30" font-size="4.3" fill="#000" text-anchor="start" >MAF</text>
<text x="285.50" y="43.20" font-size="4.3" fill="#000" text-anchor="start" >STAT5B</text>
<text x="304.20" y="47.50" font-size="4.3" fill="#000" text-anchor="start" >MYB</text>
<text x="301.00" y="64.00" font-size="4.3" fill="#000" text-anchor="start" >GATA3</text>
<text x="327.80" y="128.80" font-size="4.3" fill="#000" text-anchor="start" >KAT2B</text>
<line x1="366.40" y1="18.00" x2="366.40" y2="130.80" stroke="#8a8a8a" stroke-width="0.9"/>
<line x1="366.40" y1="130.80" x2="504.60" y2="130.80" stroke="#8a8a8a" stroke-width="0.9"/>
<line x1="365.10" y1="20.50" x2="366.40" y2="20.50" stroke="#8a8a8a" stroke-width="0.5"/>
<text x="364.60" y="21.60" font-size="3.2" fill="#666" text-anchor="end" >0.9</text>
<line x1="365.10" y1="57.20" x2="366.40" y2="57.20" stroke="#8a8a8a" stroke-width="0.5"/>
<text x="364.60" y="58.30" font-size="3.2" fill="#666" text-anchor="end" >0.6</text>
<line x1="365.10" y1="94.20" x2="366.40" y2="94.20" stroke="#8a8a8a" stroke-width="0.5"/>
<text x="364.60" y="95.30" font-size="3.2" fill="#666" text-anchor="end" >0.3</text>
<line x1="365.10" y1="130.80" x2="366.40" y2="130.80" stroke="#8a8a8a" stroke-width="0.5"/>
<text x="364.60" y="131.90" font-size="3.2" fill="#666" text-anchor="end" >0.0</text>
<line x1="371.50" y1="130.80" x2="371.50" y2="132.10" stroke="#8a8a8a" stroke-width="0.5"/>
<text x="371.50" y="135.10" font-size="3.2" fill="#666" text-anchor="middle" >0</text>
<line x1="419.70" y1="130.80" x2="419.70" y2="132.10" stroke="#8a8a8a" stroke-width="0.5"/>
<text x="419.70" y="135.10" font-size="3.2" fill="#666" text-anchor="middle" >5</text>
<line x1="467.90" y1="130.80" x2="467.90" y2="132.10" stroke="#8a8a8a" stroke-width="0.5"/>
<text x="467.90" y="135.10" font-size="3.2" fill="#666" text-anchor="middle" >10</text>
<text x="417.20" y="139.70" font-size="4.2" fill="#111" text-anchor="start" stroke="#111" stroke-width="0.12">LISA -log10(pvalue)</text>
<text x="0" y="0" font-size="4.3" fill="#111" stroke="#111" stroke-width="0.12" text-anchor="middle" transform="translate(357.30,74.70) rotate(-90)">GIGGLE -log10(score)</text>
<circle cx="378.30" cy="21.20" r="2.60" fill="#58ec1e"/>
<circle cx="382.80" cy="21.20" r="2.60" fill="#a4e050"/>
<circle cx="387.30" cy="21.20" r="2.60" fill="#58ec1e"/>
<circle cx="391.80" cy="21.20" r="2.60" fill="#58ec1e"/>
<circle cx="396.30" cy="21.20" r="2.60" fill="#a4e050"/>
<circle cx="400.80" cy="21.70" r="2.60" fill="#7cf030"/>
<circle cx="405.30" cy="21.70" r="2.60" fill="#84ec44"/>
<circle cx="409.30" cy="22.20" r="2.60" fill="#74ee38"/>
<circle cx="421.30" cy="21.70" r="2.60" fill="#a4e050"/>
<circle cx="425.80" cy="21.70" r="2.60" fill="#58ec1e"/>
<circle cx="430.30" cy="22.20" r="2.60" fill="#7cf030"/>
<circle cx="433.30" cy="28.20" r="2.60" fill="#74ee38"/>
<circle cx="431.30" cy="32.20" r="2.60" fill="#66f22c"/>
<circle cx="402.30" cy="24.20" r="2.60" fill="#58ec1e"/>
<circle cx="377.30" cy="25.20" r="2.60" fill="#60ea28"/>
<circle cx="381.30" cy="25.20" r="2.60" fill="#74ee38"/>
<circle cx="385.30" cy="25.20" r="2.60" fill="#66f22c"/>
<circle cx="389.30" cy="25.20" r="2.60" fill="#a4e050"/>
<circle cx="393.30" cy="25.20" r="2.60" fill="#5af020"/>
<circle cx="397.30" cy="25.70" r="2.60" fill="#7cf030"/>
<circle cx="406.30" cy="25.20" r="2.60" fill="#6cf428"/>
<circle cx="410.30" cy="25.20" r="2.60" fill="#58ec1e"/>
<circle cx="418.30" cy="25.20" r="2.60" fill="#7cf030"/>
<circle cx="422.30" cy="25.20" r="2.60" fill="#74ee38"/>
<circle cx="426.30" cy="25.20" r="2.60" fill="#7cf030"/>
<circle cx="430.30" cy="26.20" r="2.60" fill="#5af020"/>
<circle cx="379.30" cy="29.20" r="2.60" fill="#a4e050"/>
<circle cx="387.30" cy="29.20" r="2.60" fill="#66f22c"/>
<circle cx="391.30" cy="29.20" r="2.60" fill="#5af020"/>
<circle cx="395.30" cy="29.20" r="2.60" fill="#5af020"/>
<circle cx="405.30" cy="29.20" r="2.60" fill="#84ec44"/>
<circle cx="408.30" cy="28.20" r="2.60" fill="#84ec44"/>
<circle cx="415.30" cy="29.20" r="2.60" fill="#7cf030"/>
<circle cx="419.30" cy="29.20" r="2.60" fill="#5af020"/>
<circle cx="423.30" cy="29.20" r="2.60" fill="#58ec1e"/>
<circle cx="427.30" cy="29.20" r="2.60" fill="#96e84c"/>
<circle cx="431.30" cy="29.20" r="2.60" fill="#58ec1e"/>
<circle cx="385.30" cy="32.70" r="2.60" fill="#7cf030"/>
<circle cx="389.30" cy="33.20" r="2.60" fill="#84ec44"/>
<circle cx="393.30" cy="33.20" r="2.60" fill="#a4e050"/>
<circle cx="403.30" cy="33.20" r="2.60" fill="#84ec44"/>
<circle cx="411.30" cy="35.20" r="2.60" fill="#60ea28"/>
<circle cx="422.30" cy="33.20" r="2.60" fill="#58ec1e"/>
<circle cx="426.30" cy="33.20" r="2.60" fill="#5af020"/>
<circle cx="431.10" cy="37.90" r="2.60" fill="#66f22c"/>
<circle cx="402.30" cy="37.20" r="2.60" fill="#58ec1e"/>
<circle cx="406.30" cy="37.70" r="2.60" fill="#60ea28"/>
<circle cx="410.30" cy="38.20" r="2.60" fill="#6cf428"/>
<circle cx="416.80" cy="39.00" r="2.60" fill="#a4e050"/>
<circle cx="425.30" cy="37.20" r="2.60" fill="#66f22c"/>
<circle cx="429.30" cy="36.20" r="2.60" fill="#60ea28"/>
<circle cx="404.90" cy="40.60" r="2.60" fill="#96e84c"/>
<circle cx="408.30" cy="41.20" r="2.60" fill="#84ec44"/>
<circle cx="413.30" cy="42.20" r="2.60" fill="#a4e050"/>
<circle cx="417.30" cy="41.20" r="2.60" fill="#60ea28"/>
<circle cx="409.50" cy="44.40" r="2.60" fill="#5af020"/>
<circle cx="413.30" cy="45.20" r="2.60" fill="#66f22c"/>
<circle cx="417.30" cy="45.20" r="2.60" fill="#7cf030"/>
<circle cx="415.70" cy="47.50" r="2.60" fill="#66f22c"/>
<circle cx="415.10" cy="50.60" r="2.60" fill="#7c9c8c"/>
<circle cx="383.30" cy="27.70" r="2.30" fill="#8cec5c"/>
<circle cx="399.30" cy="31.20" r="2.40" fill="#8cec5c"/>
<circle cx="417.30" cy="33.20" r="2.30" fill="#8cec5c"/>
<circle cx="407.30" cy="43.20" r="2.30" fill="#8cec5c"/>
<circle cx="428.80" cy="25.20" r="2.40" fill="#8cec5c"/>
<circle cx="419.30" cy="38.20" r="2.30" fill="#8cec5c"/>
<circle cx="372.20" cy="23.30" r="2.80" fill="#b8c040"/>
<circle cx="374.90" cy="26.00" r="2.50" fill="#9aa890"/>
<circle cx="383.00" cy="28.70" r="2.40" fill="#a8d236"/>
<circle cx="407.60" cy="34.40" r="2.40" fill="#e06828"/>
<circle cx="418.00" cy="36.00" r="2.40" fill="#c09030"/>
<circle cx="415.30" cy="22.90" r="2.40" fill="#c0a838"/>
<circle cx="426.50" cy="42.90" r="2.50" fill="#e06828"/>
<circle cx="402.10" cy="27.90" r="2.60" fill="#5a4ae0"/>
<circle cx="411.80" cy="31.00" r="2.50" fill="#5a4ae0"/>
<circle cx="435.70" cy="24.40" r="2.70" fill="#5a4ae0"/>
<circle cx="434.90" cy="33.70" r="2.70" fill="#5a4ae0"/>
<circle cx="398.40" cy="37.10" r="2.80" fill="#e8321a"/>
<circle cx="421.80" cy="43.30" r="2.60" fill="#e8321a"/>
<circle cx="441.30" cy="29.60" r="2.60" fill="#e8321a"/>
<circle cx="438.00" cy="31.90" r="2.40" fill="#52ea22"/>
<circle cx="439.10" cy="37.50" r="2.60" fill="#d05a22"/>
<circle cx="458.80" cy="25.70" r="2.60" fill="#40e820"/>
<circle cx="474.90" cy="25.70" r="2.70" fill="#a8c838"/>
<circle cx="451.80" cy="33.40" r="2.60" fill="#a8d236"/>
<circle cx="451.10" cy="35.00" r="2.70" fill="#a8c040"/>
<circle cx="461.10" cy="34.20" r="2.60" fill="#b8b838"/>
<circle cx="458.00" cy="42.20" r="2.50" fill="#7c9c8c"/>
<circle cx="467.20" cy="59.50" r="2.50" fill="#a8d030"/>
<circle cx="420.90" cy="60.80" r="2.60" fill="#b8c030"/>
<circle cx="423.30" cy="60.80" r="2.60" fill="#b8c030"/>
<circle cx="433.00" cy="66.50" r="2.30" fill="#3aea0a"/>
<circle cx="435.70" cy="76.20" r="2.20" fill="#5cd050"/>
<circle cx="441.50" cy="79.40" r="2.20" fill="#3ae812"/>
<circle cx="428.00" cy="84.80" r="2.00" fill="#8a9a90"/>
<circle cx="444.00" cy="100.20" r="1.90" fill="#c08a40"/>
<circle cx="498.50" cy="125.60" r="0.60" fill="#d8d040"/>
<text x="382.20" y="22.50" font-size="4.3" fill="#000" text-anchor="start" >SAP30</text>
<text x="404.10" y="22.50" font-size="4.3" fill="#000" text-anchor="start" >MAX</text>
<text x="426.80" y="22.50" font-size="4.3" fill="#000" text-anchor="start" >TAF1</text>
<text x="390.30" y="29.20" font-size="4.3" fill="#000" text-anchor="start" >ZFX</text>
<text x="416.50" y="28.60" font-size="4.3" fill="#000" text-anchor="start" >MYC</text>
<text x="405.60" y="34.40" font-size="4.3" fill="#000" text-anchor="start" >MEN1</text>
<text x="421.10" y="35.20" font-size="4.3" fill="#000" text-anchor="start" >CTCF</text>
<text x="439.50" y="28.00" font-size="4.3" fill="#000" text-anchor="start" >SPI1</text>
<text x="457.30" y="23.40" font-size="4.3" fill="#000" text-anchor="start" >CDK9</text>
<text x="451.80" y="31.90" font-size="4.3" fill="#000" text-anchor="start" >KMT2A</text>
<text x="473.30" y="31.10" font-size="4.3" fill="#000" text-anchor="start" >BRD4</text>
<text x="438.60" y="37.70" font-size="4.3" fill="#000" text-anchor="start" >RELA</text>
<text x="460.30" y="39.50" font-size="4.3" fill="#000" text-anchor="start" >MAF</text>
<text x="440.80" y="43.40" font-size="4.3" fill="#000" text-anchor="start" >STAT5B</text>
<text x="459.50" y="47.70" font-size="4.3" fill="#000" text-anchor="start" >MYB</text>
<text x="456.30" y="64.20" font-size="4.3" fill="#000" text-anchor="start" >GATA3</text>
<text x="483.10" y="129.00" font-size="4.3" fill="#000" text-anchor="start" >KAT2B</text>
<text x="306.90" y="147.20" font-size="4.2" fill="#000" text-anchor="start" >expr</text>
<defs><linearGradient id="g1" x1="0" x2="1" y1="0" y2="0"><stop offset="0" stop-color="#5a4ae6"/><stop offset="0.2" stop-color="#6a80c0"/><stop offset="0.42" stop-color="#40f020"/><stop offset="0.6" stop-color="#a8e028"/><stop offset="0.8" stop-color="#f0a020"/><stop offset="1" stop-color="#f03c14"/></linearGradient></defs>
<rect x="317.9" y="139.3" width="37.1" height="6.8" fill="url(#g1)"/>
<text x="325.00" y="151.20" font-size="3.0" fill="#333" text-anchor="middle" >0.1</text>
<text x="334.60" y="151.20" font-size="3.0" fill="#333" text-anchor="middle" >0.2</text>
<text x="344.20" y="151.20" font-size="3.0" fill="#333" text-anchor="middle" >0.3</text>
<text x="353.80" y="151.20" font-size="3.0" fill="#333" text-anchor="middle" >0.4</text>
<text x="363.80" y="143.80" font-size="4.2" fill="#000" text-anchor="start" >GIGGLE</text>
<circle cx="385.80" cy="142.50" r="1.90" fill="#000"/>
<text x="391.50" y="143.60" font-size="3.0" fill="#333" text-anchor="start" >0.3</text>
<circle cx="401.80" cy="142.50" r="2.70" fill="#000"/>
<text x="407.70" y="143.60" font-size="3.0" fill="#333" text-anchor="start" >0.6</text>
<line x1="211.60" y1="175.40" x2="211.60" y2="280.80" stroke="#8a8a8a" stroke-width="0.9"/>
<line x1="211.60" y1="280.80" x2="347.70" y2="280.80" stroke="#8a8a8a" stroke-width="0.9"/>
<line x1="210.30" y1="198.70" x2="211.60" y2="198.70" stroke="#8a8a8a" stroke-width="0.5"/>
<text x="209.80" y="199.80" font-size="3.2" fill="#666" text-anchor="end" >1.25</text>
<line x1="210.30" y1="223.20" x2="211.60" y2="223.20" stroke="#8a8a8a" stroke-width="0.5"/>
<text x="209.80" y="224.30" font-size="3.2" fill="#666" text-anchor="end" >1.00</text>
<line x1="210.30" y1="247.80" x2="211.60" y2="247.80" stroke="#8a8a8a" stroke-width="0.5"/>
<text x="209.80" y="248.90" font-size="3.2" fill="#666" text-anchor="end" >0.75</text>
<line x1="210.30" y1="273.00" x2="211.60" y2="273.00" stroke="#8a8a8a" stroke-width="0.5"/>
<text x="209.80" y="274.10" font-size="3.2" fill="#666" text-anchor="end" >0.50</text>
<line x1="215.40" y1="280.80" x2="215.40" y2="282.10" stroke="#8a8a8a" stroke-width="0.5"/>
<text x="215.40" y="285.10" font-size="3.2" fill="#666" text-anchor="middle" >0</text>
<line x1="249.20" y1="280.80" x2="249.20" y2="282.10" stroke="#8a8a8a" stroke-width="0.5"/>
<text x="249.20" y="285.10" font-size="3.2" fill="#666" text-anchor="middle" >3</text>
<line x1="283.00" y1="280.80" x2="283.00" y2="282.10" stroke="#8a8a8a" stroke-width="0.5"/>
<text x="283.00" y="285.10" font-size="3.2" fill="#666" text-anchor="middle" >6</text>
<line x1="317.00" y1="280.80" x2="317.00" y2="282.10" stroke="#8a8a8a" stroke-width="0.5"/>
<text x="317.00" y="285.10" font-size="3.2" fill="#666" text-anchor="middle" >9</text>
<text x="261.50" y="289.00" font-size="4.2" fill="#111" text-anchor="start" stroke="#111" stroke-width="0.12">LISA -log10(pvalue)</text>
<text x="0" y="0" font-size="4.3" fill="#111" stroke="#111" stroke-width="0.12" text-anchor="middle" transform="translate(200.60,228.50) rotate(-90)">GIGGLE -log10(score)</text>
<circle cx="218.20" cy="194.50" r="2.60" fill="#66f22c"/>
<circle cx="221.00" cy="194.00" r="2.60" fill="#60ea28"/>
<circle cx="224.00" cy="195.00" r="2.60" fill="#6cf428"/>
<circle cx="219.50" cy="197.50" r="2.60" fill="#66f22c"/>
<circle cx="222.00" cy="198.00" r="2.60" fill="#5af020"/>
<circle cx="226.00" cy="196.50" r="2.60" fill="#5af020"/>
<circle cx="229.00" cy="194.00" r="2.60" fill="#84ec44"/>
<circle cx="232.00" cy="193.00" r="2.60" fill="#84ec44"/>
<circle cx="235.00" cy="194.00" r="2.60" fill="#5af020"/>
<circle cx="230.00" cy="198.00" r="2.60" fill="#58ec1e"/>
<circle cx="234.00" cy="198.00" r="2.60" fill="#6cf428"/>
<circle cx="238.00" cy="197.50" r="2.60" fill="#6cf428"/>
<circle cx="228.00" cy="201.00" r="2.60" fill="#6cf428"/>
<circle cx="240.00" cy="199.50" r="2.60" fill="#66f22c"/>
<circle cx="244.00" cy="199.00" r="2.60" fill="#7cf030"/>
<circle cx="242.00" cy="203.00" r="2.60" fill="#84ec44"/>
<circle cx="246.00" cy="202.00" r="2.60" fill="#60ea28"/>
<circle cx="250.00" cy="200.00" r="2.60" fill="#96e84c"/>
<circle cx="239.00" cy="205.00" r="2.60" fill="#66f22c"/>
<circle cx="243.00" cy="206.00" r="2.60" fill="#60ea28"/>
<circle cx="247.00" cy="206.50" r="2.60" fill="#96e84c"/>
<circle cx="251.00" cy="205.00" r="2.60" fill="#5af020"/>
<circle cx="253.00" cy="203.00" r="2.60" fill="#6cf428"/>
<circle cx="257.00" cy="205.70" r="2.60" fill="#66f22c"/>
<circle cx="255.00" cy="208.00" r="2.60" fill="#74ee38"/>
<circle cx="259.00" cy="207.00" r="2.60" fill="#84ec44"/>
<circle cx="262.20" cy="207.10" r="2.60" fill="#66f22c"/>
<circle cx="263.70" cy="199.90" r="2.60" fill="#5af020"/>
<circle cx="266.00" cy="198.50" r="2.60" fill="#5af020"/>
<circle cx="272.80" cy="204.70" r="2.60" fill="#58ec1e"/>
<circle cx="275.70" cy="207.10" r="2.60" fill="#58ec1e"/>
<circle cx="279.50" cy="210.00" r="2.60" fill="#74ee38"/>
<circle cx="258.00" cy="201.00" r="2.60" fill="#a4e050"/>
<circle cx="270.00" cy="200.00" r="2.60" fill="#84ec44"/>
<circle cx="276.00" cy="202.00" r="2.60" fill="#58ec1e"/>
<circle cx="290.60" cy="203.80" r="2.60" fill="#a4e050"/>
<circle cx="288.70" cy="218.70" r="2.60" fill="#84ec44"/>
<circle cx="293.50" cy="214.30" r="2.60" fill="#74ee38"/>
<circle cx="302.00" cy="199.40" r="2.60" fill="#6cf428"/>
<circle cx="309.40" cy="200.40" r="2.60" fill="#6cf428"/>
<circle cx="297.00" cy="212.90" r="2.60" fill="#66f22c"/>
<circle cx="265.00" cy="211.00" r="2.60" fill="#6cf428"/>
<circle cx="250.00" cy="209.00" r="2.60" fill="#6cf428"/>
<circle cx="224.00" cy="196.00" r="2.30" fill="#8cec5c"/>
<circle cx="236.00" cy="199.00" r="2.30" fill="#8cec5c"/>
<circle cx="247.00" cy="204.00" r="2.30" fill="#8cec5c"/>
<circle cx="262.00" cy="203.00" r="2.30" fill="#8cec5c"/>
<circle cx="279.00" cy="201.00" r="2.30" fill="#8cec5c"/>
<circle cx="232.90" cy="182.00" r="2.80" fill="#52ea22"/>
<circle cx="270.50" cy="179.60" r="2.60" fill="#52ea22"/>
<circle cx="275.70" cy="188.80" r="2.60" fill="#52ea22"/>
<circle cx="241.70" cy="195.60" r="2.60" fill="#a8ac3a"/>
<circle cx="222.50" cy="199.40" r="2.40" fill="#b8c830"/>
<circle cx="226.80" cy="197.50" r="2.00" fill="#6a8a50"/>
<circle cx="248.50" cy="205.20" r="2.50" fill="#7c9c8c"/>
<circle cx="283.40" cy="198.90" r="3.40" fill="#60ea2a"/>
<circle cx="251.80" cy="191.70" r="2.60" fill="#5a4ae0"/>
<circle cx="236.40" cy="201.80" r="2.60" fill="#5a4ae0"/>
<circle cx="254.70" cy="199.90" r="2.50" fill="#5a4ae0"/>
<circle cx="255.50" cy="200.40" r="2.30" fill="#5a4ae0"/>
<circle cx="261.40" cy="206.50" r="2.50" fill="#5a4ae0"/>
<circle cx="269.00" cy="210.50" r="2.60" fill="#5a4ae0"/>
<circle cx="268.00" cy="204.70" r="2.50" fill="#c09030"/>
<circle cx="280.00" cy="216.70" r="2.60" fill="#b0a020"/>
<circle cx="292.00" cy="199.40" r="2.60" fill="#b8b828"/>
<circle cx="299.30" cy="194.10" r="2.70" fill="#a8d236"/>
<circle cx="300.80" cy="195.60" r="2.60" fill="#a8d236"/>
<circle cx="307.00" cy="202.30" r="2.60" fill="#e06828"/>
<circle cx="280.50" cy="205.20" r="2.60" fill="#c84818"/>
<circle cx="286.30" cy="205.20" r="2.70" fill="#e04010"/>
<circle cx="285.80" cy="208.60" r="2.60" fill="#e8321a"/>
<circle cx="289.60" cy="211.90" r="2.70" fill="#e8321a"/>
<circle cx="296.00" cy="202.80" r="2.60" fill="#d8205a"/>
<circle cx="294.40" cy="206.20" r="2.50" fill="#5a4ae0"/>
<circle cx="290.10" cy="217.20" r="2.40" fill="#5a4ae0"/>
<circle cx="305.60" cy="198.00" r="2.60" fill="#5a4ae0"/>
<circle cx="318.60" cy="205.70" r="2.60" fill="#5a4ae0"/>
<circle cx="312.80" cy="220.10" r="2.50" fill="#5a4ae0"/>
<circle cx="328.20" cy="193.70" r="2.70" fill="#5a4ae0"/>
<circle cx="309.40" cy="200.40" r="2.50" fill="#52ea22"/>
<circle cx="315.70" cy="210.50" r="2.60" fill="#b0a028"/>
<circle cx="342.10" cy="207.60" r="2.60" fill="#a0e040"/>
<circle cx="288.60" cy="239.80" r="2.30" fill="#78dc48"/>
<circle cx="291.40" cy="275.50" r="0.60" fill="#d8d040"/>
<text x="231.00" y="179.50" font-size="4.3" fill="#000" text-anchor="start" >EHF8</text>
<text x="273.50" y="179.30" font-size="4.3" fill="#000" text-anchor="start" >BCL6</text>
<text x="266.60" y="186.90" font-size="4.3" fill="#000" text-anchor="start" >MYC</text>
<text x="242.40" y="189.90" font-size="4.3" fill="#000" text-anchor="start" >NFE2</text>
<text x="281.20" y="188.80" font-size="4.3" fill="#000" text-anchor="start" >RUNX1</text>
<text x="298.50" y="189.70" font-size="4.3" fill="#000" text-anchor="start" >BRD4</text>
<text x="328.00" y="191.90" font-size="4.3" fill="#000" text-anchor="start" >ERG</text>
<text x="252.00" y="195.90" font-size="4.3" fill="#000" text-anchor="start" >NFKB1</text>
<text x="284.20" y="194.90" font-size="4.3" fill="#000" text-anchor="start" >RELA</text>
<text x="271.80" y="196.80" font-size="4.3" fill="#000" text-anchor="start" >MAF</text>
<text x="306.30" y="195.70" font-size="4.3" fill="#000" text-anchor="start" >SPI1</text>
<text x="295.00" y="200.00" font-size="4.3" fill="#000" text-anchor="start" >FLI1</text>
<text x="312.40" y="201.80" font-size="4.3" fill="#000" text-anchor="start" >MED1</text>
<text x="266.60" y="202.80" font-size="4.3" fill="#000" text-anchor="start" >MZF1</text>
<text x="331.40" y="206.10" font-size="4.3" fill="#000" text-anchor="start" >GATA3</text>
<text x="305.50" y="207.80" font-size="4.3" fill="#000" text-anchor="start" >CDK9</text>
<text x="320.20" y="212.20" font-size="4.3" fill="#000" text-anchor="start" >TAL1</text>
<text x="296.00" y="213.40" font-size="4.3" fill="#000" text-anchor="start" >KMT2A</text>
<line x1="367.10" y1="175.40" x2="367.10" y2="280.40" stroke="#8a8a8a" stroke-width="0.9"/>
<line x1="367.10" y1="280.40" x2="503.00" y2="280.40" stroke="#8a8a8a" stroke-width="0.9"/>
<line x1="365.80" y1="198.70" x2="367.10" y2="198.70" stroke="#8a8a8a" stroke-width="0.5"/>
<text x="365.30" y="199.80" font-size="3.2" fill="#666" text-anchor="end" >1.25</text>
<line x1="365.80" y1="223.20" x2="367.10" y2="223.20" stroke="#8a8a8a" stroke-width="0.5"/>
<text x="365.30" y="224.30" font-size="3.2" fill="#666" text-anchor="end" >1.00</text>
<line x1="365.80" y1="247.80" x2="367.10" y2="247.80" stroke="#8a8a8a" stroke-width="0.5"/>
<text x="365.30" y="248.90" font-size="3.2" fill="#666" text-anchor="end" >0.75</text>
<line x1="365.80" y1="273.00" x2="367.10" y2="273.00" stroke="#8a8a8a" stroke-width="0.5"/>
<text x="365.30" y="274.10" font-size="3.2" fill="#666" text-anchor="end" >0.50</text>
<line x1="370.80" y1="280.40" x2="370.80" y2="281.70" stroke="#8a8a8a" stroke-width="0.5"/>
<text x="370.80" y="284.70" font-size="3.2" fill="#666" text-anchor="middle" >0</text>
<line x1="404.40" y1="280.40" x2="404.40" y2="281.70" stroke="#8a8a8a" stroke-width="0.5"/>
<text x="404.40" y="284.70" font-size="3.2" fill="#666" text-anchor="middle" >3</text>
<line x1="438.60" y1="280.40" x2="438.60" y2="281.70" stroke="#8a8a8a" stroke-width="0.5"/>
<text x="438.60" y="284.70" font-size="3.2" fill="#666" text-anchor="middle" >6</text>
<line x1="472.60" y1="280.40" x2="472.60" y2="281.70" stroke="#8a8a8a" stroke-width="0.5"/>
<text x="472.60" y="284.70" font-size="3.2" fill="#666" text-anchor="middle" >9</text>
<text x="416.90" y="288.80" font-size="4.2" fill="#111" text-anchor="start" stroke="#111" stroke-width="0.12">LISA -log10(pvalue)</text>
<text x="0" y="0" font-size="4.3" fill="#111" stroke="#111" stroke-width="0.12" text-anchor="middle" transform="translate(356.20,228.50) rotate(-90)">GIGGLE -log10(score)</text>
<circle cx="373.60" cy="194.50" r="2.60" fill="#66f22c"/>
<circle cx="376.40" cy="194.00" r="2.60" fill="#60ea28"/>
<circle cx="379.40" cy="195.00" r="2.60" fill="#6cf428"/>
<circle cx="374.90" cy="197.50" r="2.60" fill="#66f22c"/>
<circle cx="377.40" cy="198.00" r="2.60" fill="#5af020"/>
<circle cx="381.40" cy="196.50" r="2.60" fill="#5af020"/>
<circle cx="384.40" cy="194.00" r="2.60" fill="#84ec44"/>
<circle cx="387.40" cy="193.00" r="2.60" fill="#84ec44"/>
<circle cx="390.40" cy="194.00" r="2.60" fill="#5af020"/>
<circle cx="385.40" cy="198.00" r="2.60" fill="#58ec1e"/>
<circle cx="389.40" cy="198.00" r="2.60" fill="#6cf428"/>
<circle cx="393.40" cy="197.50" r="2.60" fill="#6cf428"/>
<circle cx="383.40" cy="201.00" r="2.60" fill="#6cf428"/>
<circle cx="395.40" cy="199.50" r="2.60" fill="#66f22c"/>
<circle cx="399.40" cy="199.00" r="2.60" fill="#7cf030"/>
<circle cx="397.40" cy="203.00" r="2.60" fill="#84ec44"/>
<circle cx="401.40" cy="202.00" r="2.60" fill="#60ea28"/>
<circle cx="405.40" cy="200.00" r="2.60" fill="#96e84c"/>
<circle cx="394.40" cy="205.00" r="2.60" fill="#66f22c"/>
<circle cx="398.40" cy="206.00" r="2.60" fill="#60ea28"/>
<circle cx="402.40" cy="206.50" r="2.60" fill="#96e84c"/>
<circle cx="406.40" cy="205.00" r="2.60" fill="#5af020"/>
<circle cx="408.40" cy="203.00" r="2.60" fill="#6cf428"/>
<circle cx="412.40" cy="205.70" r="2.60" fill="#66f22c"/>
<circle cx="410.40" cy="208.00" r="2.60" fill="#74ee38"/>
<circle cx="414.40" cy="207.00" r="2.60" fill="#84ec44"/>
<circle cx="417.60" cy="207.10" r="2.60" fill="#66f22c"/>
<circle cx="419.10" cy="199.90" r="2.60" fill="#5af020"/>
<circle cx="421.40" cy="198.50" r="2.60" fill="#5af020"/>
<circle cx="428.20" cy="204.70" r="2.60" fill="#58ec1e"/>
<circle cx="431.10" cy="207.10" r="2.60" fill="#58ec1e"/>
<circle cx="434.90" cy="210.00" r="2.60" fill="#74ee38"/>
<circle cx="413.40" cy="201.00" r="2.60" fill="#a4e050"/>
<circle cx="425.40" cy="200.00" r="2.60" fill="#84ec44"/>
<circle cx="431.40" cy="202.00" r="2.60" fill="#58ec1e"/>
<circle cx="446.00" cy="203.80" r="2.60" fill="#a4e050"/>
<circle cx="444.10" cy="218.70" r="2.60" fill="#84ec44"/>
<circle cx="448.90" cy="214.30" r="2.60" fill="#74ee38"/>
<circle cx="457.40" cy="199.40" r="2.60" fill="#6cf428"/>
<circle cx="464.80" cy="200.40" r="2.60" fill="#6cf428"/>
<circle cx="452.40" cy="212.90" r="2.60" fill="#66f22c"/>
<circle cx="420.40" cy="211.00" r="2.60" fill="#6cf428"/>
<circle cx="405.40" cy="209.00" r="2.60" fill="#6cf428"/>
<circle cx="379.40" cy="196.00" r="2.30" fill="#8cec5c"/>
<circle cx="391.40" cy="199.00" r="2.30" fill="#8cec5c"/>
<circle cx="402.40" cy="204.00" r="2.30" fill="#8cec5c"/>
<circle cx="417.40" cy="203.00" r="2.30" fill="#8cec5c"/>
<circle cx="434.40" cy="201.00" r="2.30" fill="#8cec5c"/>
<circle cx="388.30" cy="182.00" r="2.80" fill="#52ea22"/>
<circle cx="425.90" cy="179.60" r="2.60" fill="#52ea22"/>
<circle cx="431.10" cy="188.80" r="2.60" fill="#52ea22"/>
<circle cx="397.10" cy="195.60" r="2.60" fill="#b8b030"/>
<circle cx="377.90" cy="199.40" r="2.40" fill="#b8c830"/>
<circle cx="382.20" cy="197.50" r="2.00" fill="#6a8a50"/>
<circle cx="403.90" cy="205.20" r="2.50" fill="#c09030"/>
<circle cx="438.80" cy="198.90" r="3.40" fill="#60ea2a"/>
<circle cx="407.20" cy="191.70" r="2.60" fill="#6c5cc8"/>
<circle cx="391.80" cy="201.80" r="2.60" fill="#7c9c8c"/>
<circle cx="410.10" cy="199.90" r="2.50" fill="#6c5cc8"/>
<circle cx="410.90" cy="200.40" r="2.30" fill="#5a4ae0"/>
<circle cx="416.80" cy="206.50" r="2.50" fill="#6c5cc8"/>
<circle cx="424.40" cy="210.50" r="2.60" fill="#5a4ae0"/>
<circle cx="423.40" cy="204.70" r="2.50" fill="#c09030"/>
<circle cx="435.40" cy="216.70" r="2.60" fill="#c09030"/>
<circle cx="447.40" cy="199.40" r="2.60" fill="#b8b828"/>
<circle cx="454.70" cy="194.10" r="2.70" fill="#a8d236"/>
<circle cx="456.20" cy="195.60" r="2.60" fill="#a8d236"/>
<circle cx="462.40" cy="202.30" r="2.60" fill="#e06828"/>
<circle cx="435.90" cy="205.20" r="2.60" fill="#e06828"/>
<circle cx="441.70" cy="205.20" r="2.70" fill="#e04010"/>
<circle cx="441.20" cy="208.60" r="2.60" fill="#e8321a"/>
<circle cx="445.00" cy="211.90" r="2.70" fill="#e8321a"/>
<circle cx="451.40" cy="202.80" r="2.60" fill="#e06828"/>
<circle cx="449.80" cy="206.20" r="2.50" fill="#6c5cc8"/>
<circle cx="445.50" cy="217.20" r="2.40" fill="#6c5cc8"/>
<circle cx="461.00" cy="198.00" r="2.60" fill="#6c5cc8"/>
<circle cx="474.00" cy="205.70" r="2.60" fill="#6c5cc8"/>
<circle cx="468.20" cy="220.10" r="2.50" fill="#6c5cc8"/>
<circle cx="483.60" cy="193.70" r="2.70" fill="#6c5cc8"/>
<circle cx="464.80" cy="200.40" r="2.50" fill="#52ea22"/>
<circle cx="471.10" cy="210.50" r="2.60" fill="#e06828"/>
<circle cx="497.50" cy="207.60" r="2.60" fill="#a0e040"/>
<circle cx="444.00" cy="239.80" r="2.30" fill="#78dc48"/>
<circle cx="446.80" cy="275.50" r="0.60" fill="#d8d040"/>
<text x="386.40" y="179.50" font-size="4.3" fill="#000" text-anchor="start" >EHF8</text>
<text x="428.90" y="179.30" font-size="4.3" fill="#000" text-anchor="start" >BCL6</text>
<text x="422.00" y="186.90" font-size="4.3" fill="#000" text-anchor="start" >MYC</text>
<text x="397.80" y="189.90" font-size="4.3" fill="#000" text-anchor="start" >NFE2</text>
<text x="436.60" y="188.80" font-size="4.3" fill="#000" text-anchor="start" >RUNX1</text>
<text x="453.90" y="189.70" font-size="4.3" fill="#000" text-anchor="start" >BRD4</text>
<text x="483.40" y="191.90" font-size="4.3" fill="#000" text-anchor="start" >ERG</text>
<text x="407.40" y="195.90" font-size="4.3" fill="#000" text-anchor="start" >NFKB1</text>
<text x="439.60" y="194.90" font-size="4.3" fill="#000" text-anchor="start" >RELA</text>
<text x="427.20" y="196.80" font-size="4.3" fill="#000" text-anchor="start" >MAF</text>
<text x="461.70" y="195.70" font-size="4.3" fill="#000" text-anchor="start" >SPI1</text>
<text x="450.40" y="200.00" font-size="4.3" fill="#000" text-anchor="start" >FLI1</text>
<text x="467.80" y="201.80" font-size="4.3" fill="#000" text-anchor="start" >MED1</text>
<text x="422.00" y="202.80" font-size="4.3" fill="#000" text-anchor="start" >MZF1</text>
<text x="486.80" y="206.10" font-size="4.3" fill="#000" text-anchor="start" >GATA3</text>
<text x="460.90" y="207.80" font-size="4.3" fill="#000" text-anchor="start" >CDK9</text>
<text x="475.60" y="212.20" font-size="4.3" fill="#000" text-anchor="start" >TAL1</text>
<text x="451.40" y="213.40" font-size="4.3" fill="#000" text-anchor="start" >KMT2A</text>
<text x="289.20" y="296.30" font-size="4.2" fill="#000" text-anchor="start" >GIGGLE</text>
<circle cx="311.50" cy="295.00" r="1.00" fill="#000"/>
<text x="317.00" y="296.10" font-size="3.0" fill="#333" text-anchor="start" >2.50</text>
<circle cx="329.50" cy="295.00" r="1.90" fill="#000"/>
<text x="335.40" y="296.10" font-size="3.0" fill="#333" text-anchor="start" >2.75</text>
<circle cx="348.50" cy="295.00" r="2.45" fill="#000"/>
<text x="354.60" y="296.10" font-size="3.0" fill="#333" text-anchor="start" >3.00</text>
<circle cx="366.90" cy="295.00" r="2.90" fill="#000"/>
<text x="373.00" y="296.10" font-size="3.0" fill="#333" text-anchor="start" >3.25</text>
<text x="387.70" y="299.00" font-size="4.2" fill="#000" text-anchor="start" >expr</text>
<defs><linearGradient id="g2" x1="0" x2="1" y1="0" y2="0"><stop offset="0" stop-color="#6a7890"/><stop offset="0.2" stop-color="#70a080"/><stop offset="0.45" stop-color="#40f020"/><stop offset="0.7" stop-color="#b0b828"/><stop offset="1" stop-color="#e06a20"/></linearGradient></defs>
<rect x="398.9" y="291.2" width="33.9" height="7.2" fill="url(#g2)"/>
<text x="400.60" y="302.50" font-size="2.5" fill="#333" text-anchor="start" textLength="31.5" lengthAdjust="spacingAndGlyphs">-0.25 0.00 0.25 0.50</text>
<line x1="211.50" y1="322.00" x2="211.50" y2="431.30" stroke="#8a8a8a" stroke-width="0.9"/>
<line x1="211.50" y1="431.30" x2="350.50" y2="431.30" stroke="#8a8a8a" stroke-width="0.9"/>
<line x1="210.20" y1="325.40" x2="211.50" y2="325.40" stroke="#8a8a8a" stroke-width="0.5"/>
<text x="209.70" y="326.50" font-size="3.2" fill="#666" text-anchor="end" >3.2</text>
<line x1="210.20" y1="357.10" x2="211.50" y2="357.10" stroke="#8a8a8a" stroke-width="0.5"/>
<text x="209.70" y="358.20" font-size="3.2" fill="#666" text-anchor="end" >2.8</text>
<line x1="210.20" y1="388.90" x2="211.50" y2="388.90" stroke="#8a8a8a" stroke-width="0.5"/>
<text x="209.70" y="390.00" font-size="3.2" fill="#666" text-anchor="end" >2.4</text>
<line x1="210.20" y1="420.60" x2="211.50" y2="420.60" stroke="#8a8a8a" stroke-width="0.5"/>
<text x="209.70" y="421.70" font-size="3.2" fill="#666" text-anchor="end" >2.0</text>
<line x1="250.50" y1="431.30" x2="250.50" y2="432.60" stroke="#8a8a8a" stroke-width="0.5"/>
<text x="250.50" y="435.60" font-size="3.2" fill="#666" text-anchor="middle" >2</text>
<line x1="290.20" y1="431.30" x2="290.20" y2="432.60" stroke="#8a8a8a" stroke-width="0.5"/>
<text x="290.20" y="435.60" font-size="3.2" fill="#666" text-anchor="middle" >4</text>
<line x1="330.00" y1="431.30" x2="330.00" y2="432.60" stroke="#8a8a8a" stroke-width="0.5"/>
<text x="330.00" y="435.60" font-size="3.2" fill="#666" text-anchor="middle" >6</text>
<text x="262.00" y="440.20" font-size="4.2" fill="#111" text-anchor="start" stroke="#111" stroke-width="0.12">LISA -log10(pvalue)</text>
<text x="0" y="0" font-size="4.3" fill="#111" stroke="#111" stroke-width="0.12" text-anchor="middle" transform="translate(200.60,376.00) rotate(-90)">GIGGLE -log10(score)</text>
<circle cx="217.60" cy="327.20" r="2.60" fill="#84ec44"/>
<circle cx="221.50" cy="328.00" r="2.60" fill="#5af020"/>
<circle cx="225.00" cy="327.00" r="2.60" fill="#60ea28"/>
<circle cx="231.00" cy="327.00" r="2.60" fill="#7cf030"/>
<circle cx="239.00" cy="327.00" r="2.60" fill="#60ea28"/>
<circle cx="243.00" cy="327.00" r="2.60" fill="#5af020"/>
<circle cx="247.00" cy="327.50" r="2.60" fill="#84ec44"/>
<circle cx="251.00" cy="327.00" r="2.60" fill="#74ee38"/>
<circle cx="255.00" cy="327.00" r="2.60" fill="#6cf428"/>
<circle cx="259.00" cy="327.00" r="2.60" fill="#7cf030"/>
<circle cx="263.00" cy="327.50" r="2.60" fill="#7cf030"/>
<circle cx="228.00" cy="331.00" r="2.60" fill="#66f22c"/>
<circle cx="236.00" cy="331.00" r="2.60" fill="#5af020"/>
<circle cx="240.00" cy="331.00" r="2.60" fill="#74ee38"/>
<circle cx="244.00" cy="331.00" r="2.60" fill="#84ec44"/>
<circle cx="248.00" cy="331.00" r="2.60" fill="#58ec1e"/>
<circle cx="252.00" cy="331.00" r="2.60" fill="#60ea28"/>
<circle cx="233.00" cy="335.00" r="2.60" fill="#5af020"/>
<circle cx="237.00" cy="335.00" r="2.60" fill="#7cf030"/>
<circle cx="241.00" cy="335.00" r="2.60" fill="#96e84c"/>
<circle cx="245.00" cy="335.00" r="2.60" fill="#60ea28"/>
<circle cx="236.00" cy="339.00" r="2.60" fill="#6cf428"/>
<circle cx="240.00" cy="339.00" r="2.60" fill="#66f22c"/>
<circle cx="251.00" cy="340.40" r="2.60" fill="#66f22c"/>
<circle cx="257.30" cy="344.20" r="2.60" fill="#66f22c"/>
<circle cx="262.00" cy="345.80" r="2.60" fill="#84ec44"/>
<circle cx="247.00" cy="336.00" r="2.60" fill="#7cf030"/>
<circle cx="255.00" cy="335.00" r="2.60" fill="#84ec44"/>
<circle cx="269.60" cy="329.60" r="2.60" fill="#5af020"/>
<circle cx="273.00" cy="329.60" r="2.60" fill="#7cf030"/>
<circle cx="281.00" cy="330.40" r="2.60" fill="#96e84c"/>
<circle cx="287.00" cy="329.60" r="2.60" fill="#96e84c"/>
<circle cx="293.00" cy="329.60" r="2.60" fill="#7cf030"/>
<circle cx="303.80" cy="324.20" r="2.60" fill="#58ec1e"/>
<circle cx="319.20" cy="329.60" r="2.60" fill="#74ee38"/>
<circle cx="307.00" cy="333.50" r="2.60" fill="#7cf030"/>
<circle cx="308.50" cy="339.60" r="2.60" fill="#58ec1e"/>
<circle cx="285.40" cy="339.60" r="2.60" fill="#7cf030"/>
<circle cx="296.00" cy="351.60" r="2.60" fill="#74ee38"/>
<circle cx="324.60" cy="358.00" r="2.60" fill="#6cf428"/>
<circle cx="297.70" cy="361.20" r="2.60" fill="#74ee38"/>
<circle cx="343.80" cy="341.20" r="2.60" fill="#74ee38"/>
<circle cx="276.50" cy="350.40" r="2.60" fill="#60ea28"/>
<circle cx="276.80" cy="350.80" r="2.60" fill="#84ec44"/>
<circle cx="296.20" cy="352.00" r="2.60" fill="#7cf030"/>
<circle cx="290.00" cy="333.00" r="2.60" fill="#84ec44"/>
<circle cx="298.00" cy="331.00" r="2.60" fill="#84ec44"/>
<circle cx="315.00" cy="330.00" r="2.60" fill="#74ee38"/>
<circle cx="323.00" cy="333.00" r="2.60" fill="#a4e050"/>
<circle cx="337.50" cy="370.30" r="2.60" fill="#84ec44"/>
<circle cx="291.10" cy="377.00" r="2.60" fill="#6cf428"/>
<circle cx="295.30" cy="379.50" r="2.60" fill="#58ec1e"/>
<circle cx="302.00" cy="385.10" r="2.60" fill="#7cf030"/>
<circle cx="324.00" cy="358.40" r="2.60" fill="#66f22c"/>
<circle cx="277.00" cy="333.00" r="2.60" fill="#6cf428"/>
<circle cx="283.00" cy="334.00" r="2.60" fill="#5af020"/>
<circle cx="290.00" cy="333.50" r="2.60" fill="#66f22c"/>
<circle cx="297.00" cy="333.00" r="2.60" fill="#66f22c"/>
<circle cx="316.00" cy="332.00" r="2.60" fill="#5af020"/>
<circle cx="320.00" cy="333.50" r="2.60" fill="#a4e050"/>
<circle cx="279.00" cy="327.00" r="2.60" fill="#60ea28"/>
<circle cx="267.00" cy="327.00" r="2.60" fill="#84ec44"/>
<circle cx="227.30" cy="328.00" r="2.50" fill="#7c9c8c"/>
<circle cx="232.70" cy="331.00" r="2.50" fill="#a8ac3a"/>
<circle cx="264.20" cy="332.70" r="2.50" fill="#7c9c8c"/>
<circle cx="229.00" cy="335.00" r="2.30" fill="#8cec5c"/>
<circle cx="260.00" cy="331.00" r="2.30" fill="#8cec5c"/>
<circle cx="312.00" cy="328.00" r="2.30" fill="#8cec5c"/>
<circle cx="235.50" cy="324.50" r="2.60" fill="#5a4ae0"/>
<circle cx="256.50" cy="338.00" r="2.20" fill="#3c48a0"/>
<circle cx="267.80" cy="341.20" r="2.60" fill="#5a4ae0"/>
<circle cx="267.80" cy="348.00" r="2.60" fill="#5a4ae0"/>
<circle cx="275.00" cy="337.30" r="2.60" fill="#e84818"/>
<circle cx="273.50" cy="342.70" r="2.50" fill="#a8ac3a"/>
<circle cx="274.20" cy="346.50" r="2.60" fill="#c09030"/>
<circle cx="277.30" cy="343.50" r="2.50" fill="#7c9c8c"/>
<circle cx="305.40" cy="329.60" r="2.50" fill="#a8ac3a"/>
<circle cx="326.20" cy="326.50" r="2.60" fill="#a8d236"/>
<circle cx="329.20" cy="326.50" r="2.60" fill="#a8d236"/>
<circle cx="313.00" cy="335.00" r="2.60" fill="#a8ac3a"/>
<circle cx="311.50" cy="342.70" r="2.50" fill="#c8d030"/>
<circle cx="289.20" cy="346.50" r="2.50" fill="#a8ac3a"/>
<circle cx="299.20" cy="338.80" r="2.50" fill="#5a4ae0"/>
<circle cx="303.00" cy="345.80" r="2.50" fill="#7c9c8c"/>
<circle cx="297.70" cy="345.00" r="2.50" fill="#c09030"/>
<circle cx="323.50" cy="347.30" r="2.60" fill="#5a4ae0"/>
<circle cx="329.20" cy="341.20" r="2.60" fill="#a8d236"/>
<circle cx="328.80" cy="344.50" r="2.60" fill="#b8d040"/>
<circle cx="339.20" cy="346.50" r="2.60" fill="#a8d236"/>
<circle cx="343.80" cy="346.50" r="2.50" fill="#7c9c8c"/>
<circle cx="286.20" cy="358.80" r="2.50" fill="#e06828"/>
<circle cx="285.20" cy="357.60" r="2.50" fill="#c09030"/>
<circle cx="287.70" cy="359.80" r="2.60" fill="#e05a18"/>
<circle cx="296.20" cy="364.90" r="2.50" fill="#a8ac3a"/>
<circle cx="297.80" cy="361.80" r="2.50" fill="#52ea22"/>
<circle cx="331.60" cy="369.90" r="2.60" fill="#e8321a"/>
<circle cx="292.00" cy="373.30" r="2.50" fill="#a8d236"/>
<circle cx="300.40" cy="375.70" r="2.50" fill="#c09030"/>
<circle cx="329.40" cy="379.50" r="2.50" fill="#a8d236"/>
<circle cx="329.10" cy="385.80" r="2.40" fill="#5a4ae0"/>
<circle cx="306.80" cy="387.50" r="2.40" fill="#7c9c8c"/>
<circle cx="308.00" cy="390.50" r="2.40" fill="#c09030"/>
<circle cx="322.30" cy="395.90" r="2.40" fill="#5a4ae0"/>
<circle cx="337.50" cy="426.30" r="0.60" fill="#d8d040"/>
<text x="238.00" y="323.50" font-size="4.3" fill="#000" text-anchor="start" >E2F1</text>
<text x="261.00" y="327.00" font-size="4.3" fill="#000" text-anchor="start" >SP1</text>
<text x="272.30" y="327.00" font-size="4.3" fill="#000" text-anchor="start" >NOTCH1</text>
<text x="292.30" y="323.50" font-size="4.3" fill="#000" text-anchor="start" >TAF1</text>
<text x="305.00" y="323.50" font-size="4.3" fill="#000" text-anchor="start" >BCL6</text>
<text x="313.50" y="323.50" font-size="4.3" fill="#000" text-anchor="start" >BTF3</text>
<text x="330.00" y="325.00" font-size="4.3" fill="#000" text-anchor="start" >BRD4</text>
<text x="307.00" y="330.00" font-size="4.3" fill="#000" text-anchor="start" >IRF1</text>
<text x="275.40" y="334.20" font-size="4.3" fill="#000" text-anchor="start" >FOXP1</text>
<text x="293.00" y="335.00" font-size="4.3" fill="#000" text-anchor="start" >MYC</text>
<text x="327.00" y="332.50" font-size="4.3" fill="#000" text-anchor="start" >RUNX1</text>
<text x="310.80" y="338.00" font-size="4.3" fill="#000" text-anchor="start" >CDK9</text>
<text x="323.80" y="338.80" font-size="4.3" fill="#000" text-anchor="start" >RELA</text>
<text x="337.70" y="338.80" font-size="4.3" fill="#000" text-anchor="start" >HSF1</text>
<text x="284.60" y="341.10" font-size="4.3" fill="#000" text-anchor="start" >CDK7</text>
<text x="300.00" y="344.20" font-size="4.3" fill="#000" text-anchor="start" >MED1</text>
<text x="333.00" y="345.00" font-size="4.3" fill="#000" text-anchor="start" >ETS1</text>
<text x="317.70" y="351.10" font-size="4.3" fill="#000" text-anchor="start" >STAT5B</text>
<text x="340.00" y="352.20" font-size="4.3" fill="#000" text-anchor="start" >MYB</text>
<text x="319.20" y="356.80" font-size="4.3" fill="#000" text-anchor="start" >CREBBP</text>
<line x1="367.00" y1="323.80" x2="367.00" y2="433.10" stroke="#8a8a8a" stroke-width="0.9"/>
<line x1="367.00" y1="433.10" x2="505.30" y2="433.10" stroke="#8a8a8a" stroke-width="0.9"/>
<line x1="365.70" y1="327.20" x2="367.00" y2="327.20" stroke="#8a8a8a" stroke-width="0.5"/>
<text x="365.20" y="328.30" font-size="3.2" fill="#666" text-anchor="end" >3.2</text>
<line x1="365.70" y1="358.90" x2="367.00" y2="358.90" stroke="#8a8a8a" stroke-width="0.5"/>
<text x="365.20" y="360.00" font-size="3.2" fill="#666" text-anchor="end" >2.8</text>
<line x1="365.70" y1="390.70" x2="367.00" y2="390.70" stroke="#8a8a8a" stroke-width="0.5"/>
<text x="365.20" y="391.80" font-size="3.2" fill="#666" text-anchor="end" >2.4</text>
<line x1="365.70" y1="422.40" x2="367.00" y2="422.40" stroke="#8a8a8a" stroke-width="0.5"/>
<text x="365.20" y="423.50" font-size="3.2" fill="#666" text-anchor="end" >2.0</text>
<line x1="405.80" y1="433.10" x2="405.80" y2="434.40" stroke="#8a8a8a" stroke-width="0.5"/>
<text x="405.80" y="437.40" font-size="3.2" fill="#666" text-anchor="middle" >2</text>
<line x1="446.00" y1="433.10" x2="446.00" y2="434.40" stroke="#8a8a8a" stroke-width="0.5"/>
<text x="446.00" y="437.40" font-size="3.2" fill="#666" text-anchor="middle" >4</text>
<line x1="485.80" y1="433.10" x2="485.80" y2="434.40" stroke="#8a8a8a" stroke-width="0.5"/>
<text x="485.80" y="437.40" font-size="3.2" fill="#666" text-anchor="middle" >6</text>
<text x="419.90" y="442.10" font-size="4.2" fill="#111" text-anchor="start" stroke="#111" stroke-width="0.12">LISA -log10(pvalue)</text>
<text x="0" y="0" font-size="4.3" fill="#111" stroke="#111" stroke-width="0.12" text-anchor="middle" transform="translate(356.20,377.80) rotate(-90)">GIGGLE -log10(score)</text>
<circle cx="373.00" cy="329.00" r="2.60" fill="#84ec44"/>
<circle cx="376.90" cy="329.80" r="2.60" fill="#5af020"/>
<circle cx="380.40" cy="328.80" r="2.60" fill="#60ea28"/>
<circle cx="386.40" cy="328.80" r="2.60" fill="#7cf030"/>
<circle cx="394.40" cy="328.80" r="2.60" fill="#60ea28"/>
<circle cx="398.40" cy="328.80" r="2.60" fill="#5af020"/>
<circle cx="402.40" cy="329.30" r="2.60" fill="#84ec44"/>
<circle cx="406.40" cy="328.80" r="2.60" fill="#74ee38"/>
<circle cx="410.40" cy="328.80" r="2.60" fill="#6cf428"/>
<circle cx="414.40" cy="328.80" r="2.60" fill="#7cf030"/>
<circle cx="418.40" cy="329.30" r="2.60" fill="#7cf030"/>
<circle cx="383.40" cy="332.80" r="2.60" fill="#66f22c"/>
<circle cx="391.40" cy="332.80" r="2.60" fill="#5af020"/>
<circle cx="395.40" cy="332.80" r="2.60" fill="#74ee38"/>
<circle cx="399.40" cy="332.80" r="2.60" fill="#84ec44"/>
<circle cx="403.40" cy="332.80" r="2.60" fill="#58ec1e"/>
<circle cx="407.40" cy="332.80" r="2.60" fill="#60ea28"/>
<circle cx="388.40" cy="336.80" r="2.60" fill="#5af020"/>
<circle cx="392.40" cy="336.80" r="2.60" fill="#7cf030"/>
<circle cx="396.40" cy="336.80" r="2.60" fill="#96e84c"/>
<circle cx="400.40" cy="336.80" r="2.60" fill="#60ea28"/>
<circle cx="391.40" cy="340.80" r="2.60" fill="#6cf428"/>
<circle cx="395.40" cy="340.80" r="2.60" fill="#66f22c"/>
<circle cx="406.40" cy="342.20" r="2.60" fill="#66f22c"/>
<circle cx="412.70" cy="346.00" r="2.60" fill="#66f22c"/>
<circle cx="417.40" cy="347.60" r="2.60" fill="#84ec44"/>
<circle cx="402.40" cy="337.80" r="2.60" fill="#7cf030"/>
<circle cx="410.40" cy="336.80" r="2.60" fill="#84ec44"/>
<circle cx="425.00" cy="331.40" r="2.60" fill="#5af020"/>
<circle cx="428.40" cy="331.40" r="2.60" fill="#7cf030"/>
<circle cx="436.40" cy="332.20" r="2.60" fill="#96e84c"/>
<circle cx="442.40" cy="331.40" r="2.60" fill="#96e84c"/>
<circle cx="448.40" cy="331.40" r="2.60" fill="#7cf030"/>
<circle cx="459.20" cy="326.00" r="2.60" fill="#58ec1e"/>
<circle cx="474.60" cy="331.40" r="2.60" fill="#74ee38"/>
<circle cx="462.40" cy="335.30" r="2.60" fill="#7cf030"/>
<circle cx="463.90" cy="341.40" r="2.60" fill="#58ec1e"/>
<circle cx="440.80" cy="341.40" r="2.60" fill="#7cf030"/>
<circle cx="451.40" cy="353.40" r="2.60" fill="#74ee38"/>
<circle cx="480.00" cy="359.80" r="2.60" fill="#6cf428"/>
<circle cx="453.10" cy="363.00" r="2.60" fill="#74ee38"/>
<circle cx="499.20" cy="343.00" r="2.60" fill="#74ee38"/>
<circle cx="431.90" cy="352.20" r="2.60" fill="#60ea28"/>
<circle cx="432.20" cy="352.60" r="2.60" fill="#84ec44"/>
<circle cx="451.60" cy="353.80" r="2.60" fill="#7cf030"/>
<circle cx="445.40" cy="334.80" r="2.60" fill="#84ec44"/>
<circle cx="453.40" cy="332.80" r="2.60" fill="#84ec44"/>
<circle cx="470.40" cy="331.80" r="2.60" fill="#74ee38"/>
<circle cx="478.40" cy="334.80" r="2.60" fill="#a4e050"/>
<circle cx="492.90" cy="372.10" r="2.60" fill="#84ec44"/>
<circle cx="446.50" cy="378.80" r="2.60" fill="#6cf428"/>
<circle cx="450.70" cy="381.30" r="2.60" fill="#58ec1e"/>
<circle cx="457.40" cy="386.90" r="2.60" fill="#7cf030"/>
<circle cx="479.40" cy="360.20" r="2.60" fill="#66f22c"/>
<circle cx="432.40" cy="334.80" r="2.60" fill="#6cf428"/>
<circle cx="438.40" cy="335.80" r="2.60" fill="#5af020"/>
<circle cx="445.40" cy="335.30" r="2.60" fill="#66f22c"/>
<circle cx="452.40" cy="334.80" r="2.60" fill="#66f22c"/>
<circle cx="471.40" cy="333.80" r="2.60" fill="#5af020"/>
<circle cx="475.40" cy="335.30" r="2.60" fill="#a4e050"/>
<circle cx="434.40" cy="328.80" r="2.60" fill="#60ea28"/>
<circle cx="422.40" cy="328.80" r="2.60" fill="#84ec44"/>
<circle cx="382.70" cy="329.80" r="2.50" fill="#52ea22"/>
<circle cx="388.10" cy="332.80" r="2.50" fill="#8cec5c"/>
<circle cx="419.60" cy="334.50" r="2.50" fill="#7c9c8c"/>
<circle cx="384.40" cy="336.80" r="2.30" fill="#8cec5c"/>
<circle cx="415.40" cy="332.80" r="2.30" fill="#8cec5c"/>
<circle cx="467.40" cy="329.80" r="2.30" fill="#8cec5c"/>
<circle cx="390.90" cy="326.30" r="2.60" fill="#6c5cc8"/>
<circle cx="411.90" cy="339.80" r="2.20" fill="#3c48a0"/>
<circle cx="423.20" cy="343.00" r="2.60" fill="#6c5cc8"/>
<circle cx="423.20" cy="349.80" r="2.60" fill="#5a4ae0"/>
<circle cx="430.40" cy="339.10" r="2.60" fill="#e06828"/>
<circle cx="428.90" cy="344.50" r="2.50" fill="#a8ac3a"/>
<circle cx="429.60" cy="348.30" r="2.60" fill="#c09030"/>
<circle cx="432.70" cy="345.30" r="2.50" fill="#7c9c8c"/>
<circle cx="460.80" cy="331.40" r="2.50" fill="#a8ac3a"/>
<circle cx="481.60" cy="328.30" r="2.60" fill="#a8d236"/>
<circle cx="484.60" cy="328.30" r="2.60" fill="#a8d236"/>
<circle cx="468.40" cy="336.80" r="2.60" fill="#a8ac3a"/>
<circle cx="466.90" cy="344.50" r="2.50" fill="#c8d030"/>
<circle cx="444.60" cy="348.30" r="2.50" fill="#c09030"/>
<circle cx="454.60" cy="340.60" r="2.50" fill="#5a4ae0"/>
<circle cx="458.40" cy="347.60" r="2.50" fill="#7c9c8c"/>
<circle cx="453.10" cy="346.80" r="2.50" fill="#c09030"/>
<circle cx="478.90" cy="349.10" r="2.60" fill="#5a4ae0"/>
<circle cx="484.60" cy="343.00" r="2.60" fill="#a8d236"/>
<circle cx="484.20" cy="346.30" r="2.60" fill="#b8d040"/>
<circle cx="494.60" cy="348.30" r="2.60" fill="#a8d236"/>
<circle cx="499.20" cy="348.30" r="2.50" fill="#7c9c8c"/>
<circle cx="441.60" cy="360.60" r="2.50" fill="#e06828"/>
<circle cx="440.60" cy="359.40" r="2.50" fill="#c09030"/>
<circle cx="443.10" cy="361.60" r="2.60" fill="#e8321a"/>
<circle cx="451.60" cy="366.70" r="2.50" fill="#a8d236"/>
<circle cx="453.20" cy="363.60" r="2.50" fill="#52ea22"/>
<circle cx="487.00" cy="371.70" r="2.60" fill="#e06828"/>
<circle cx="447.40" cy="375.10" r="2.50" fill="#a8d236"/>
<circle cx="455.80" cy="377.50" r="2.50" fill="#e06828"/>
<circle cx="484.80" cy="381.30" r="2.50" fill="#a8d236"/>
<circle cx="484.50" cy="387.60" r="2.40" fill="#6c5cc8"/>
<circle cx="462.20" cy="389.30" r="2.40" fill="#7c9c8c"/>
<circle cx="463.40" cy="392.30" r="2.40" fill="#c09030"/>
<circle cx="477.70" cy="397.70" r="2.40" fill="#6c5cc8"/>
<circle cx="492.90" cy="428.10" r="0.60" fill="#d8d040"/>
<text x="393.40" y="325.30" font-size="4.3" fill="#000" text-anchor="start" >E2F1</text>
<text x="416.40" y="328.80" font-size="4.3" fill="#000" text-anchor="start" >SP1</text>
<text x="427.70" y="328.80" font-size="4.3" fill="#000" text-anchor="start" >NOTCH1</text>
<text x="447.70" y="325.30" font-size="4.3" fill="#000" text-anchor="start" >TAF1</text>
<text x="460.40" y="325.30" font-size="4.3" fill="#000" text-anchor="start" >BCL6</text>
<text x="468.90" y="325.30" font-size="4.3" fill="#000" text-anchor="start" >BTF3</text>
<text x="485.40" y="326.80" font-size="4.3" fill="#000" text-anchor="start" >BRD4</text>
<text x="462.40" y="331.80" font-size="4.3" fill="#000" text-anchor="start" >IRF1</text>
<text x="430.80" y="336.00" font-size="4.3" fill="#000" text-anchor="start" >FOXP1</text>
<text x="448.40" y="336.80" font-size="4.3" fill="#000" text-anchor="start" >MYC</text>
<text x="482.40" y="334.30" font-size="4.3" fill="#000" text-anchor="start" >RUNX1</text>
<text x="466.20" y="339.80" font-size="4.3" fill="#000" text-anchor="start" >CDK9</text>
<text x="479.20" y="340.60" font-size="4.3" fill="#000" text-anchor="start" >RELA</text>
<text x="493.10" y="340.60" font-size="4.3" fill="#000" text-anchor="start" >HSF1</text>
<text x="440.00" y="342.90" font-size="4.3" fill="#000" text-anchor="start" >CDK7</text>
<text x="455.40" y="346.00" font-size="4.3" fill="#000" text-anchor="start" >MED1</text>
<text x="488.40" y="346.80" font-size="4.3" fill="#000" text-anchor="start" >ETS1</text>
<text x="473.10" y="352.90" font-size="4.3" fill="#000" text-anchor="start" >STAT5B</text>
<text x="495.40" y="354.00" font-size="4.3" fill="#000" text-anchor="start" >MYB</text>
<text x="474.60" y="358.60" font-size="4.3" fill="#000" text-anchor="start" >CREBBP</text>
<text x="283.00" y="449.30" font-size="4.2" fill="#000" text-anchor="start" >GIGGLE</text>
<circle cx="304.60" cy="448.00" r="0.80" fill="#000"/>
<text x="309.10" y="449.10" font-size="3.0" fill="#333" text-anchor="start" >2.00</text>
<circle cx="323.00" cy="448.00" r="1.50" fill="#000"/>
<text x="327.50" y="449.10" font-size="3.0" fill="#333" text-anchor="start" >2.25</text>
<circle cx="341.50" cy="448.00" r="2.10" fill="#000"/>
<text x="346.00" y="449.10" font-size="3.0" fill="#333" text-anchor="start" >2.50</text>
<circle cx="360.60" cy="448.00" r="2.60" fill="#000"/>
<text x="365.10" y="449.10" font-size="3.0" fill="#333" text-anchor="start" >2.75</text>
<circle cx="379.00" cy="448.00" r="3.00" fill="#000"/>
<text x="383.50" y="449.10" font-size="3.0" fill="#333" text-anchor="start" >3.00</text>
<text x="400.20" y="451.00" font-size="4.2" fill="#000" text-anchor="start" >expr</text>
<defs><linearGradient id="g3" x1="0" x2="1" y1="0" y2="0"><stop offset="0" stop-color="#7080a0"/><stop offset="0.25" stop-color="#70b070"/><stop offset="0.55" stop-color="#40f020"/><stop offset="1" stop-color="#c8e040"/></linearGradient></defs>
<rect x="410.2" y="443.9" width="26.4" height="7.5" fill="url(#g3)"/>
<text x="410.80" y="456.20" font-size="2.5" fill="#333" text-anchor="start" textLength="24.5" lengthAdjust="spacingAndGlyphs">-0.25 0.00 0.25</text>
</svg></body></html>
